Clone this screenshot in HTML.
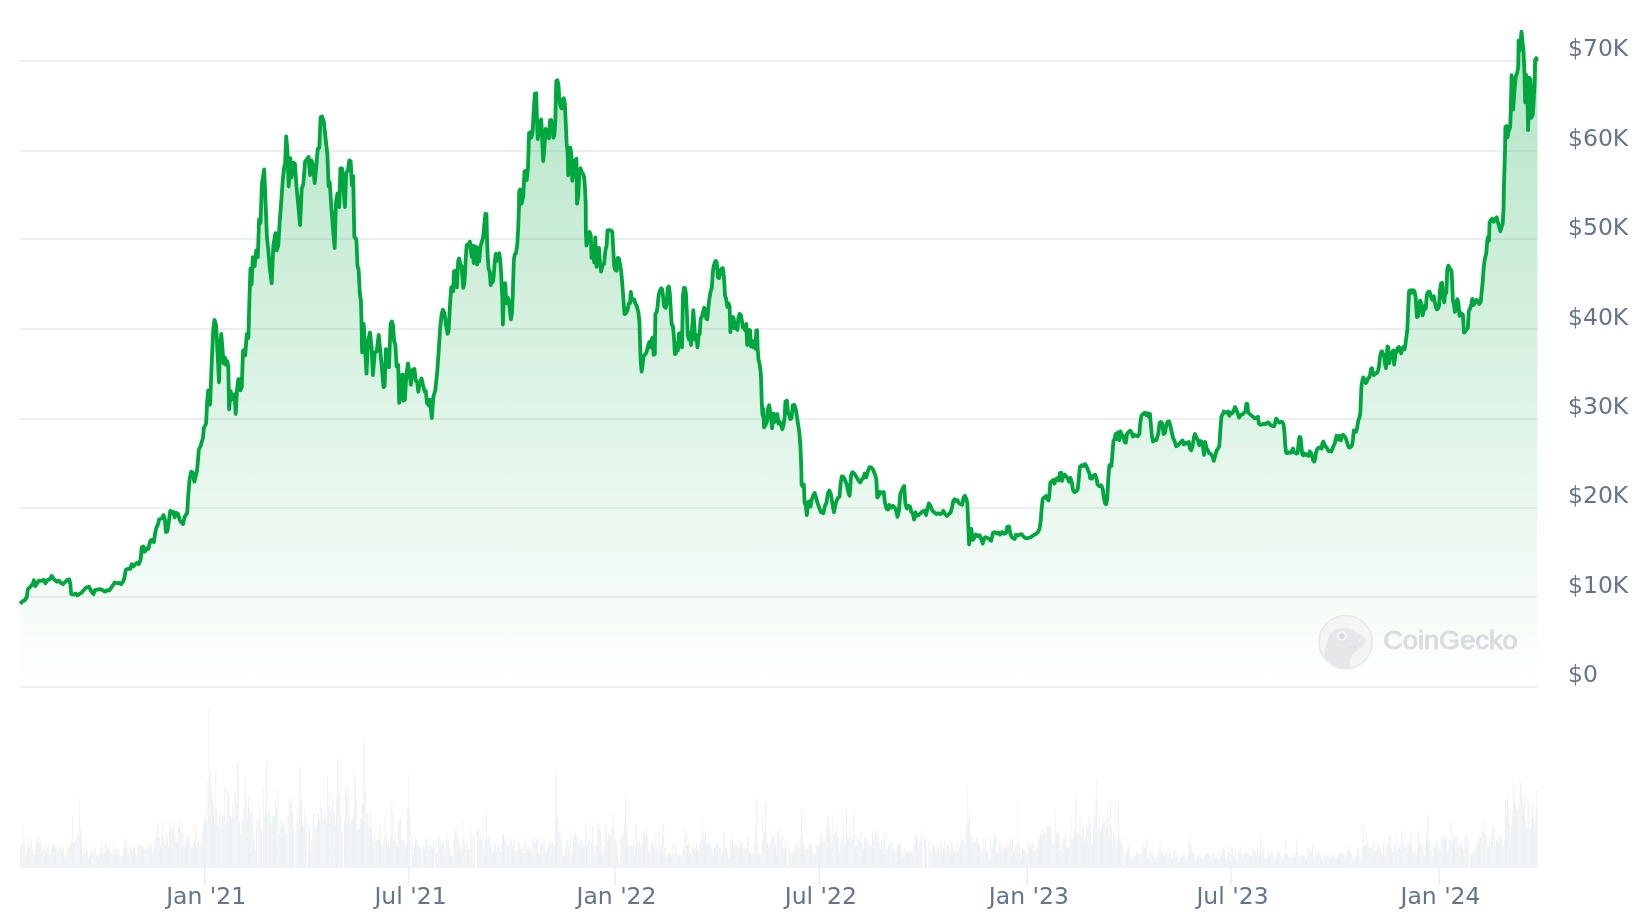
<!DOCTYPE html><html><head><meta charset="utf-8"><title>Bitcoin price chart</title>
<style>html,body{margin:0;padding:0;background:#fff}body{width:1644px;height:922px;overflow:hidden}svg{display:block;will-change:transform}text{font-family:"DejaVu Sans","Liberation Sans",sans-serif}text.wm{font-family:"Liberation Sans",sans-serif}</style></head><body>
<svg width="1644" height="922" viewBox="0 0 1644 922">
<defs><linearGradient id="g" gradientUnits="userSpaceOnUse" x1="0" y1="30" x2="0" y2="687"><stop offset="0" stop-color="#00a63e" stop-opacity="0.30"/><stop offset="1" stop-color="#00a63e" stop-opacity="0"/></linearGradient></defs>
<rect width="1644" height="922" fill="#fff"/>
<line x1="20.2" x2="1537.5" y1="687" y2="687" stroke="#edefef" stroke-width="2"/>
<line x1="20.2" x2="1537.5" y1="597" y2="597" stroke="#edefef" stroke-width="2"/>
<line x1="20.2" x2="1537.5" y1="508" y2="508" stroke="#edefef" stroke-width="2"/>
<line x1="20.2" x2="1537.5" y1="419" y2="419" stroke="#edefef" stroke-width="2"/>
<line x1="20.2" x2="1537.5" y1="329" y2="329" stroke="#edefef" stroke-width="2"/>
<line x1="20.2" x2="1537.5" y1="239" y2="239" stroke="#edefef" stroke-width="2"/>
<line x1="20.2" x2="1537.5" y1="151" y2="151" stroke="#edefef" stroke-width="2"/>
<line x1="20.2" x2="1537.5" y1="61" y2="61" stroke="#edefef" stroke-width="2"/>
<path d="M20.21 866.7v-19.9h0.83v19.9zM21.34 866.7v-22.7h0.83v22.7zM22.47 866.7v-43.19h0.83v43.19zM23.6 866.7v-26.72h0.83v26.72zM24.73 866.7v-20.49h0.83v20.49zM25.86 866.7v-13.08h0.83v13.08zM26.98 866.7v-19.66h0.83v19.66zM28.11 866.7v-23.14h0.83v23.14zM29.24 866.7v-19.28h0.83v19.28zM30.37 866.7v-28.74h0.83v28.74zM31.5 866.7v-23.21h0.83v23.21zM32.63 866.7v-17.64h0.83v17.64zM33.75 866.7v-11.88h0.83v11.88zM34.88 866.7v-20.98h0.83v20.98zM36.01 866.7v-23.76h0.83v23.76zM37.14 866.7v-29.57h0.83v29.57zM38.27 866.7v-28.14h0.83v28.14zM39.39 866.7v-24.35h0.83v24.35zM40.52 866.7v-25.06h0.83v25.06zM41.65 866.7v-17.35h0.83v17.35zM42.78 866.7v-18.18h0.83v18.18zM43.91 866.7v-16.67h0.83v16.67zM45.04 866.7v-13.62h0.83v13.62zM46.16 866.7v-17.4h0.83v17.4zM47.29 866.7v-20.41h0.83v20.41zM48.42 866.7v-22.71h0.83v22.71zM49.55 866.7v-12.52h0.83v12.52zM50.68 866.7v-17.55h0.83v17.55zM51.81 866.7v-22.63h0.83v22.63zM52.93 866.7v-20.56h0.83v20.56zM54.06 866.7v-23.2h0.83v23.2zM55.19 866.7v-19.52h0.83v19.52zM56.32 866.7v-17.7h0.83v17.7zM57.45 866.7v-14.77h0.83v14.77zM58.57 866.7v-18.27h0.83v18.27zM59.7 866.7v-22.22h0.83v22.22zM60.83 866.7v-19.75h0.83v19.75zM61.96 866.7v-16.05h0.83v16.05zM63.09 866.7v-19.62h0.83v19.62zM64.22 866.7v-10.8h0.83v10.8zM65.34 866.7v-9.63h0.83v9.63zM66.47 866.7v-13.67h0.83v13.67zM67.6 866.7v-18.66h0.83v18.66zM68.73 866.7v-19.71h0.83v19.71zM69.86 866.7v-24.87h0.83v24.87zM70.99 866.7v-25.05h0.83v25.05zM72.11 866.7v-50h0.83v50zM73.24 866.7v-24.43h0.83v24.43zM74.37 866.7v-23.94h0.83v23.94zM75.5 866.7v-27.51h0.83v27.51zM76.63 866.7v-30.02h0.83v30.02zM77.76 866.7v-31.58h0.83v31.58zM78.88 866.7v-68h0.83v68zM80.01 866.7v-38.71h0.83v38.71zM81.14 866.7v-27.92h0.83v27.92zM82.27 866.7v-11.47h0.83v11.47zM83.4 866.7v-20.29h0.83v20.29zM84.52 866.7v-14.56h0.83v14.56zM85.65 866.7v-23.4h0.83v23.4zM86.78 866.7v-18.02h0.83v18.02zM87.91 866.7v-9.44h0.83v9.44zM89.04 866.7v-10.61h0.83v10.61zM90.17 866.7v-14.96h0.83v14.96zM91.29 866.7v-21.56h0.83v21.56zM92.42 866.7v-15.15h0.83v15.15zM93.55 866.7v-17.59h0.83v17.59zM94.68 866.7v-19.71h0.83v19.71zM95.81 866.7v-11.3h0.83v11.3zM96.94 866.7v-11.95h0.83v11.95zM98.06 866.7v-9.25h0.83v9.25zM99.19 866.7v-15.28h0.83v15.28zM100.32 866.7v-18.79h0.83v18.79zM101.45 866.7v-25.13h0.83v25.13zM102.58 866.7v-13.34h0.83v13.34zM103.71 866.7v-22.51h0.83v22.51zM104.83 866.7v-15.48h0.83v15.48zM105.96 866.7v-23.95h0.83v23.95zM107.09 866.7v-18.54h0.83v18.54zM108.22 866.7v-16.6h0.83v16.6zM109.35 866.7v-16.53h0.83v16.53zM110.47 866.7v-13.72h0.83v13.72zM111.6 866.7v-14.17h0.83v14.17zM112.73 866.7v-13.97h0.83v13.97zM113.86 866.7v-22.93h0.83v22.93zM114.99 866.7v-12.61h0.83v12.61zM116.12 866.7v-16.42h0.83v16.42zM117.24 866.7v-18.35h0.83v18.35zM118.37 866.7v-17.34h0.83v17.34zM119.5 866.7v-11.51h0.83v11.51zM120.63 866.7v-10.16h0.83v10.16zM121.76 866.7v-11.38h0.83v11.38zM122.89 866.7v-16.37h0.83v16.37zM124.01 866.7v-24.41h0.83v24.41zM125.14 866.7v-19.98h0.83v19.98zM126.27 866.7v-29.35h0.83v29.35zM127.4 866.7v-17.59h0.83v17.59zM128.53 866.7v-13.12h0.83v13.12zM129.65 866.7v-18.37h0.83v18.37zM130.78 866.7v-20.25h0.83v20.25zM131.91 866.7v-15.06h0.83v15.06zM133.04 866.7v-21.19h0.83v21.19zM134.17 866.7v-19.64h0.83v19.64zM135.3 866.7v-12.96h0.83v12.96zM136.42 866.7v-12.34h0.83v12.34zM137.55 866.7v-21.44h0.83v21.44zM138.68 866.7v-24.43h0.83v24.43zM139.81 866.7v-21.02h0.83v21.02zM140.94 866.7v-20.78h0.83v20.78zM142.07 866.7v-20.67h0.83v20.67zM143.19 866.7v-17.89h0.83v17.89zM144.32 866.7v-18.52h0.83v18.52zM145.45 866.7v-16.84h0.83v16.84zM146.58 866.7v-20.24h0.83v20.24zM147.71 866.7v-18.86h0.83v18.86zM148.84 866.7v-26.08h0.83v26.08zM149.96 866.7v-21.16h0.83v21.16zM151.09 866.7v-20.39h0.83v20.39zM152.22 866.7v-12.53h0.83v12.53zM153.35 866.7v-21.01h0.83v21.01zM154.48 866.7v-30.22h0.83v30.22zM155.6 866.7v-29.2h0.83v29.2zM156.73 866.7v-38h0.83v38zM157.86 866.7v-46.58h0.83v46.58zM158.99 866.7v-28.6h0.83v28.6zM160.12 866.7v-21.28h0.83v21.28zM161.25 866.7v-31.75h0.83v31.75zM162.37 866.7v-45h0.83v45zM163.5 866.7v-26.3h0.83v26.3zM164.63 866.7v-22.16h0.83v22.16zM165.76 866.7v-35.31h0.83v35.31zM166.89 866.7v-29.42h0.83v29.42zM168.02 866.7v-21.29h0.83v21.29zM169.14 866.7v-37.02h0.83v37.02zM170.27 866.7v-46.14h0.83v46.14zM171.4 866.7v-35.64h0.83v35.64zM172.53 866.7v-41.23h0.83v41.23zM173.66 866.7v-46.36h0.83v46.36zM174.78 866.7v-29.64h0.83v29.64zM175.91 866.7v-25.49h0.83v25.49zM177.04 866.7v-29.12h0.83v29.12zM178.17 866.7v-39.14h0.83v39.14zM179.3 866.7v-46.07h0.83v46.07zM180.43 866.7v-33.89h0.83v33.89zM181.55 866.7v-42.62h0.83v42.62zM182.68 866.7v-34.69h0.83v34.69zM183.81 866.7v-19.73h0.83v19.73zM184.94 866.7v-24.47h0.83v24.47zM186.07 866.7v-28.92h0.83v28.92zM187.2 866.7v-31.09h0.83v31.09zM188.32 866.7v-27.86h0.83v27.86zM189.45 866.7v-33.21h0.83v33.21zM190.58 866.7v-20.45h0.83v20.45zM191.71 866.7v-19.15h0.83v19.15zM192.84 866.7v-25.76h0.83v25.76zM193.97 866.7v-25.64h0.83v25.64zM195.09 866.7v-40.35h0.83v40.35zM196.22 866.7v-20.23h0.83v20.23zM197.35 866.7v-24.54h0.83v24.54zM198.48 866.7v-25.86h0.83v25.86zM199.61 866.7v-21.16h0.83v21.16zM200.73 866.7v-23.68h0.83v23.68zM201.86 866.7v-37.04h0.83v37.04zM202.99 866.7v-41.82h0.83v41.82zM204.12 866.7v-46.15h0.83v46.15zM205.25 866.7v-52.47h0.83v52.47zM206.38 866.7v-43.93h0.83v43.93zM207.5 866.7v-87.34h0.83v87.34zM208.63 866.7v-160h0.83v160zM209.76 866.7v-93.27h0.83v93.27zM210.89 866.7v-82.95h0.83v82.95zM212.02 866.7v-68.73h0.83v68.73zM213.15 866.7v-60.71h0.83v60.71zM214.27 866.7v-44.31h0.83v44.31zM215.4 866.7v-98h0.83v98zM216.53 866.7v-58.14h0.83v58.14zM217.66 866.7v-39.91h0.83v39.91zM218.79 866.7v-49.99h0.83v49.99zM219.92 866.7v-53.49h0.83v53.49zM222.17 866.7v-50.49h0.83v50.49zM223.3 866.7v-52.87h0.83v52.87zM224.43 866.7v-80.79h0.83v80.79zM225.56 866.7v-42.63h0.83v42.63zM226.68 866.7v-78.97h0.83v78.97zM227.81 866.7v-75.27h0.83v75.27zM228.94 866.7v-68.78h0.83v68.78zM230.07 866.7v-50.42h0.83v50.42zM231.2 866.7v-47.81h0.83v47.81zM232.33 866.7v-61.6h0.83v61.6zM233.45 866.7v-50.97h0.83v50.97zM234.58 866.7v-74.59h0.83v74.59zM235.71 866.7v-73.79h0.83v73.79zM236.84 866.7v-104.43h0.83v104.43zM237.97 866.7v-88h0.83v88zM239.1 866.7v-44.77h0.83v44.77zM240.22 866.7v-33.03h0.83v33.03zM241.35 866.7v-40.59h0.83v40.59zM242.48 866.7v-51.18h0.83v51.18zM243.61 866.7v-58.46h0.83v58.46zM244.74 866.7v-90.3h0.83v90.3zM245.86 866.7v-69.86h0.83v69.86zM246.99 866.7v-48.84h0.83v48.84zM248.12 866.7v-70h0.83v70zM249.25 866.7v-57.17h0.83v57.17zM250.38 866.7v-54.28h0.83v54.28zM251.51 866.7v-58.41h0.83v58.41zM252.63 866.7v-42.73h0.83v42.73zM253.76 866.7v-28.7h0.83v28.7zM254.89 866.7v-16.33h0.83v16.33zM256.02 866.7v-46.65h0.83v46.65zM258.28 866.7v-48.7h0.83v48.7zM259.4 866.7v-61.61h0.83v61.61zM260.53 866.7v-40.13h0.83v40.13zM261.66 866.7v-35.93h0.83v35.93zM262.79 866.7v-80h0.83v80zM263.92 866.7v-50.18h0.83v50.18zM265.05 866.7v-56.19h0.83v56.19zM266.17 866.7v-105h0.83v105zM267.3 866.7v-53.08h0.83v53.08zM268.43 866.7v-67.51h0.83v67.51zM269.56 866.7v-54.5h0.83v54.5zM270.69 866.7v-44.24h0.83v44.24zM271.81 866.7v-50.76h0.83v50.76zM272.94 866.7v-49.19h0.83v49.19zM274.07 866.7v-51.32h0.83v51.32zM275.2 866.7v-65.38h0.83v65.38zM276.33 866.7v-60.39h0.83v60.39zM277.46 866.7v-77.96h0.83v77.96zM278.58 866.7v-33.25h0.83v33.25zM279.71 866.7v-46.8h0.83v46.8zM280.84 866.7v-39h0.83v39zM281.97 866.7v-46.77h0.83v46.77zM283.1 866.7v-42.23h0.83v42.23zM284.23 866.7v-40.05h0.83v40.05zM285.35 866.7v-36.34h0.83v36.34zM286.48 866.7v-33.34h0.83v33.34zM287.61 866.7v-50.39h0.83v50.39zM288.74 866.7v-68.96h0.83v68.96zM289.87 866.7v-65.04h0.83v65.04zM291 866.7v-69.17h0.83v69.17zM292.12 866.7v-55.82h0.83v55.82zM293.25 866.7v-39.28h0.83v39.28zM295.51 866.7v-35.83h0.83v35.83zM296.64 866.7v-57.2h0.83v57.2zM297.76 866.7v-42.79h0.83v42.79zM298.89 866.7v-99.97h0.83v99.97zM300.02 866.7v-64.96h0.83v64.96zM301.15 866.7v-68.87h0.83v68.87zM302.28 866.7v-44.51h0.83v44.51zM303.41 866.7v-40.4h0.83v40.4zM304.53 866.7v-59.01h0.83v59.01zM305.66 866.7v-49.67h0.83v49.67zM307.92 866.7v-41.93h0.83v41.93zM309.05 866.7v-38.68h0.83v38.68zM310.18 866.7v-17.27h0.83v17.27zM311.3 866.7v-26.6h0.83v26.6zM312.43 866.7v-44.81h0.83v44.81zM313.56 866.7v-53.67h0.83v53.67zM314.69 866.7v-38.31h0.83v38.31zM315.82 866.7v-40.52h0.83v40.52zM316.94 866.7v-44.29h0.83v44.29zM318.07 866.7v-54.25h0.83v54.25zM319.2 866.7v-46.64h0.83v46.64zM320.33 866.7v-65.08h0.83v65.08zM321.46 866.7v-59h0.83v59zM322.59 866.7v-49.21h0.83v49.21zM323.71 866.7v-54.38h0.83v54.38zM324.84 866.7v-53.3h0.83v53.3zM325.97 866.7v-42.23h0.83v42.23zM327.1 866.7v-90h0.83v90zM328.23 866.7v-60.45h0.83v60.45zM329.36 866.7v-72.81h0.83v72.81zM330.48 866.7v-54.86h0.83v54.86zM331.61 866.7v-59.25h0.83v59.25zM332.74 866.7v-75h0.83v75zM333.87 866.7v-54h0.83v54zM335 866.7v-41.76h0.83v41.76zM336.13 866.7v-68.52h0.83v68.52zM337.25 866.7v-110.47h0.83v110.47zM338.38 866.7v-73.17h0.83v73.17zM339.51 866.7v-71.96h0.83v71.96zM340.64 866.7v-49.67h0.83v49.67zM341.77 866.7v-34.99h0.83v34.99zM344.02 866.7v-45.48h0.83v45.48zM345.15 866.7v-80h0.83v80zM346.28 866.7v-71.89h0.83v71.89zM347.41 866.7v-81.25h0.83v81.25zM348.54 866.7v-67.56h0.83v67.56zM349.66 866.7v-42.78h0.83v42.78zM350.79 866.7v-44.4h0.83v44.4zM351.92 866.7v-49.1h0.83v49.1zM353.05 866.7v-51.46h0.83v51.46zM354.18 866.7v-95h0.83v95zM355.31 866.7v-87.63h0.83v87.63zM356.43 866.7v-67.76h0.83v67.76zM357.56 866.7v-37.76h0.83v37.76zM358.69 866.7v-38.01h0.83v38.01zM359.82 866.7v-48.82h0.83v48.82zM360.95 866.7v-48.85h0.83v48.85zM362.07 866.7v-62.81h0.83v62.81zM363.2 866.7v-128h0.83v128zM364.33 866.7v-72.67h0.83v72.67zM365.46 866.7v-80h0.83v80zM366.59 866.7v-52.6h0.83v52.6zM367.72 866.7v-48.05h0.83v48.05zM368.84 866.7v-39.91h0.83v39.91zM369.97 866.7v-56.11h0.83v56.11zM371.1 866.7v-37.6h0.83v37.6zM372.23 866.7v-30.04h0.83v30.04zM373.36 866.7v-25.24h0.83v25.24zM374.49 866.7v-40.14h0.83v40.14zM375.61 866.7v-26.21h0.83v26.21zM376.74 866.7v-26.78h0.83v26.78zM377.87 866.7v-26.95h0.83v26.95zM379 866.7v-41.45h0.83v41.45zM380.13 866.7v-25.61h0.83v25.61zM381.26 866.7v-21.57h0.83v21.57zM382.38 866.7v-22.7h0.83v22.7zM383.51 866.7v-28.55h0.83v28.55zM384.64 866.7v-54.8h0.83v54.8zM385.77 866.7v-32.39h0.83v32.39zM386.9 866.7v-23.29h0.83v23.29zM388.02 866.7v-25.22h0.83v25.22zM389.15 866.7v-19.48h0.83v19.48zM390.28 866.7v-32.63h0.83v32.63zM391.41 866.7v-65.14h0.83v65.14zM392.54 866.7v-54.55h0.83v54.55zM393.67 866.7v-27.45h0.83v27.45zM394.79 866.7v-34.38h0.83v34.38zM395.92 866.7v-24.93h0.83v24.93zM397.05 866.7v-20.58h0.83v20.58zM398.18 866.7v-44.49h0.83v44.49zM399.31 866.7v-48.28h0.83v48.28zM400.44 866.7v-50h0.83v50zM401.56 866.7v-26.72h0.83v26.72zM402.69 866.7v-26.9h0.83v26.9zM403.82 866.7v-25.52h0.83v25.52zM404.95 866.7v-18.39h0.83v18.39zM406.08 866.7v-23.49h0.83v23.49zM407.21 866.7v-57.06h0.83v57.06zM408.33 866.7v-91.37h0.83v91.37zM409.46 866.7v-55.93h0.83v55.93zM411.72 866.7v-30.22h0.83v30.22zM412.85 866.7v-13.67h0.83v13.67zM413.97 866.7v-22.25h0.83v22.25zM415.1 866.7v-27.88h0.83v27.88zM416.23 866.7v-27.48h0.83v27.48zM417.36 866.7v-21.09h0.83v21.09zM418.49 866.7v-19.94h0.83v19.94zM419.62 866.7v-20.64h0.83v20.64zM420.74 866.7v-14.65h0.83v14.65zM423 866.7v-20.57h0.83v20.57zM424.13 866.7v-18.89h0.83v18.89zM425.26 866.7v-27.51h0.83v27.51zM426.39 866.7v-27.92h0.83v27.92zM427.51 866.7v-20.97h0.83v20.97zM428.64 866.7v-15.97h0.83v15.97zM429.77 866.7v-20.14h0.83v20.14zM430.9 866.7v-20.63h0.83v20.63zM432.03 866.7v-19.38h0.83v19.38zM433.15 866.7v-21.46h0.83v21.46zM435.41 866.7v-24.72h0.83v24.72zM436.54 866.7v-13.06h0.83v13.06zM437.67 866.7v-31.62h0.83v31.62zM438.8 866.7v-28.28h0.83v28.28zM439.92 866.7v-25.98h0.83v25.98zM441.05 866.7v-21.98h0.83v21.98zM442.18 866.7v-22.87h0.83v22.87zM443.31 866.7v-26.41h0.83v26.41zM444.44 866.7v-17.93h0.83v17.93zM445.57 866.7v-25.98h0.83v25.98zM446.69 866.7v-33.21h0.83v33.21zM447.82 866.7v-26.04h0.83v26.04zM448.95 866.7v-19.25h0.83v19.25zM450.08 866.7v-13.27h0.83v13.27zM451.21 866.7v-10.65h0.83v10.65zM452.34 866.7v-12.54h0.83v12.54zM453.46 866.7v-27.58h0.83v27.58zM454.59 866.7v-37.27h0.83v37.27zM455.72 866.7v-39.24h0.83v39.24zM456.85 866.7v-30.68h0.83v30.68zM457.98 866.7v-28.24h0.83v28.24zM459.1 866.7v-20.44h0.83v20.44zM460.23 866.7v-16.79h0.83v16.79zM461.36 866.7v-20.56h0.83v20.56zM462.49 866.7v-47.6h0.83v47.6zM463.62 866.7v-28.87h0.83v28.87zM464.75 866.7v-24.5h0.83v24.5zM465.87 866.7v-22.17h0.83v22.17zM467 866.7v-25.68h0.83v25.68zM468.13 866.7v-17.86h0.83v17.86zM469.26 866.7v-17.74h0.83v17.74zM470.39 866.7v-38.56h0.83v38.56zM471.52 866.7v-26.7h0.83v26.7zM472.64 866.7v-29.73h0.83v29.73zM473.77 866.7v-30.63h0.83v30.63zM477.16 866.7v-36.84h0.83v36.84zM478.28 866.7v-36.84h0.83v36.84zM479.41 866.7v-27.82h0.83v27.82zM480.54 866.7v-31.86h0.83v31.86zM481.67 866.7v-27.54h0.83v27.54zM482.8 866.7v-20.73h0.83v20.73zM483.93 866.7v-15.03h0.83v15.03zM485.05 866.7v-26.12h0.83v26.12zM486.18 866.7v-55h0.83v55zM487.31 866.7v-27.76h0.83v27.76zM488.44 866.7v-29.8h0.83v29.8zM489.57 866.7v-31.65h0.83v31.65zM490.7 866.7v-21.43h0.83v21.43zM491.82 866.7v-14.56h0.83v14.56zM492.95 866.7v-17.27h0.83v17.27zM494.08 866.7v-23.32h0.83v23.32zM495.21 866.7v-21.75h0.83v21.75zM496.34 866.7v-15.56h0.83v15.56zM497.47 866.7v-21.96h0.83v21.96zM498.59 866.7v-20.82h0.83v20.82zM499.72 866.7v-14.6h0.83v14.6zM500.85 866.7v-22.35h0.83v22.35zM501.98 866.7v-31.77h0.83v31.77zM503.11 866.7v-32.28h0.83v32.28zM504.23 866.7v-28.97h0.83v28.97zM505.36 866.7v-24.59h0.83v24.59zM506.49 866.7v-21.93h0.83v21.93zM507.62 866.7v-20.5h0.83v20.5zM508.75 866.7v-25.56h0.83v25.56zM509.88 866.7v-26.13h0.83v26.13zM511 866.7v-27.15h0.83v27.15zM512.13 866.7v-21.07h0.83v21.07zM513.26 866.7v-26.41h0.83v26.41zM514.39 866.7v-28.18h0.83v28.18zM515.52 866.7v-14.96h0.83v14.96zM516.65 866.7v-17.31h0.83v17.31zM517.77 866.7v-24.93h0.83v24.93zM518.9 866.7v-24.12h0.83v24.12zM520.03 866.7v-19.02h0.83v19.02zM521.16 866.7v-17.08h0.83v17.08zM522.29 866.7v-20.22h0.83v20.22zM523.42 866.7v-13.29h0.83v13.29zM524.54 866.7v-22.63h0.83v22.63zM525.67 866.7v-30.35h0.83v30.35zM526.8 866.7v-17.68h0.83v17.68zM527.93 866.7v-20.36h0.83v20.36zM529.06 866.7v-18.11h0.83v18.11zM530.18 866.7v-20.25h0.83v20.25zM531.31 866.7v-15.33h0.83v15.33zM532.44 866.7v-25.52h0.83v25.52zM533.57 866.7v-28.88h0.83v28.88zM534.7 866.7v-23.23h0.83v23.23zM535.83 866.7v-27.79h0.83v27.79zM536.95 866.7v-26.83h0.83v26.83zM538.08 866.7v-13.36h0.83v13.36zM539.21 866.7v-13.15h0.83v13.15zM540.34 866.7v-21.51h0.83v21.51zM541.47 866.7v-23.35h0.83v23.35zM542.6 866.7v-23.66h0.83v23.66zM543.72 866.7v-27.76h0.83v27.76zM544.85 866.7v-22.2h0.83v22.2zM545.98 866.7v-15.42h0.83v15.42zM547.11 866.7v-19.15h0.83v19.15zM548.24 866.7v-23.9h0.83v23.9zM549.36 866.7v-28.84h0.83v28.84zM550.49 866.7v-22.57h0.83v22.57zM551.62 866.7v-25.3h0.83v25.3zM552.75 866.7v-27.36h0.83v27.36zM553.88 866.7v-20.99h0.83v20.99zM555.01 866.7v-48.73h0.83v48.73zM556.13 866.7v-95h0.83v95zM557.26 866.7v-49.72h0.83v49.72zM558.39 866.7v-35.22h0.83v35.22zM559.52 866.7v-38.37h0.83v38.37zM560.65 866.7v-26.66h0.83v26.66zM561.78 866.7v-17.61h0.83v17.61zM562.9 866.7v-10.12h0.83v10.12zM564.03 866.7v-11.91h0.83v11.91zM565.16 866.7v-18.14h0.83v18.14zM566.29 866.7v-22.05h0.83v22.05zM567.42 866.7v-27.22h0.83v27.22zM568.55 866.7v-21.31h0.83v21.31zM569.67 866.7v-35.41h0.83v35.41zM570.8 866.7v-11.87h0.83v11.87zM571.93 866.7v-16.21h0.83v16.21zM573.06 866.7v-29.97h0.83v29.97zM574.19 866.7v-32.94h0.83v32.94zM575.31 866.7v-35.91h0.83v35.91zM576.44 866.7v-29.35h0.83v29.35zM577.57 866.7v-32.02h0.83v32.02zM578.7 866.7v-22.22h0.83v22.22zM579.83 866.7v-20.01h0.83v20.01zM580.96 866.7v-26.87h0.83v26.87zM582.08 866.7v-18.68h0.83v18.68zM583.21 866.7v-19.44h0.83v19.44zM584.34 866.7v-20.69h0.83v20.69zM585.47 866.7v-45h0.83v45zM586.6 866.7v-21.66h0.83v21.66zM587.73 866.7v-26.04h0.83v26.04zM588.85 866.7v-27.66h0.83v27.66zM591.11 866.7v-25.75h0.83v25.75zM592.24 866.7v-41.06h0.83v41.06zM593.37 866.7v-22.25h0.83v22.25zM594.5 866.7v-14.05h0.83v14.05zM595.62 866.7v-21.54h0.83v21.54zM596.75 866.7v-36.35h0.83v36.35zM597.88 866.7v-45.47h0.83v45.47zM599.01 866.7v-39.29h0.83v39.29zM600.14 866.7v-35.47h0.83v35.47zM601.26 866.7v-19.71h0.83v19.71zM602.39 866.7v-12.07h0.83v12.07zM603.52 866.7v-20.92h0.83v20.92zM604.65 866.7v-35h0.83v35zM605.78 866.7v-40.6h0.83v40.6zM606.91 866.7v-27.43h0.83v27.43zM608.03 866.7v-32.87h0.83v32.87zM609.16 866.7v-31.31h0.83v31.31zM610.29 866.7v-31.92h0.83v31.92zM611.42 866.7v-40.37h0.83v40.37zM612.55 866.7v-55.39h0.83v55.39zM613.68 866.7v-39.1h0.83v39.1zM614.8 866.7v-28.53h0.83v28.53zM615.93 866.7v-25.47h0.83v25.47zM617.06 866.7v-14.29h0.83v14.29zM618.19 866.7v-8.28h0.83v8.28zM620.44 866.7v-31.81h0.83v31.81zM621.57 866.7v-30.54h0.83v30.54zM622.7 866.7v-35.83h0.83v35.83zM623.83 866.7v-45.46h0.83v45.46zM624.96 866.7v-72h0.83v72zM626.09 866.7v-43.06h0.83v43.06zM627.21 866.7v-29.04h0.83v29.04zM628.34 866.7v-22.18h0.83v22.18zM629.47 866.7v-20.76h0.83v20.76zM630.6 866.7v-21.87h0.83v21.87zM631.73 866.7v-20.98h0.83v20.98zM632.86 866.7v-24.64h0.83v24.64zM633.98 866.7v-12.07h0.83v12.07zM635.11 866.7v-22.29h0.83v22.29zM636.24 866.7v-42.39h0.83v42.39zM637.37 866.7v-24.08h0.83v24.08zM638.5 866.7v-26.7h0.83v26.7zM639.63 866.7v-25.91h0.83v25.91zM640.75 866.7v-20.16h0.83v20.16zM641.88 866.7v-23.69h0.83v23.69zM643.01 866.7v-32.86h0.83v32.86zM644.14 866.7v-37.72h0.83v37.72zM645.27 866.7v-32.43h0.83v32.43zM646.39 866.7v-38.32h0.83v38.32zM647.52 866.7v-31.46h0.83v31.46zM648.65 866.7v-15.67h0.83v15.67zM649.78 866.7v-13.55h0.83v13.55zM650.91 866.7v-24.17h0.83v24.17zM652.04 866.7v-23.68h0.83v23.68zM653.16 866.7v-21.65h0.83v21.65zM654.29 866.7v-18.09h0.83v18.09zM655.42 866.7v-34.54h0.83v34.54zM656.55 866.7v-20.23h0.83v20.23zM657.68 866.7v-17.32h0.83v17.32zM658.81 866.7v-36.27h0.83v36.27zM659.93 866.7v-22.09h0.83v22.09zM661.06 866.7v-20.98h0.83v20.98zM662.19 866.7v-30.2h0.83v30.2zM663.32 866.7v-42.61h0.83v42.61zM664.45 866.7v-20.02h0.83v20.02zM665.57 866.7v-9.55h0.83v9.55zM666.7 866.7v-12.39h0.83v12.39zM667.83 866.7v-14.82h0.83v14.82zM668.96 866.7v-15.34h0.83v15.34zM670.09 866.7v-12.66h0.83v12.66zM671.22 866.7v-10.59h0.83v10.59zM672.34 866.7v-22.11h0.83v22.11zM673.47 866.7v-13.07h0.83v13.07zM674.6 866.7v-24.83h0.83v24.83zM675.73 866.7v-19.88h0.83v19.88zM676.86 866.7v-14.08h0.83v14.08zM677.99 866.7v-10.36h0.83v10.36zM679.11 866.7v-13.17h0.83v13.17zM680.24 866.7v-11.27h0.83v11.27zM681.37 866.7v-10.31h0.83v10.31zM682.5 866.7v-16.73h0.83v16.73zM683.63 866.7v-20.46h0.83v20.46zM684.76 866.7v-37.3h0.83v37.3zM685.88 866.7v-30.15h0.83v30.15zM687.01 866.7v-21.62h0.83v21.62zM688.14 866.7v-24.96h0.83v24.96zM689.27 866.7v-13.47h0.83v13.47zM690.4 866.7v-12.98h0.83v12.98zM691.52 866.7v-18.83h0.83v18.83zM692.65 866.7v-17.7h0.83v17.7zM693.78 866.7v-18.39h0.83v18.39zM694.91 866.7v-18.51h0.83v18.51zM696.04 866.7v-23.72h0.83v23.72zM697.17 866.7v-16.98h0.83v16.98zM698.29 866.7v-18.62h0.83v18.62zM699.42 866.7v-23.34h0.83v23.34zM700.55 866.7v-28.07h0.83v28.07zM701.68 866.7v-51.73h0.83v51.73zM702.81 866.7v-33.06h0.83v33.06zM703.94 866.7v-30.07h0.83v30.07zM705.06 866.7v-35.74h0.83v35.74zM706.19 866.7v-21.82h0.83v21.82zM707.32 866.7v-24.27h0.83v24.27zM708.45 866.7v-25.78h0.83v25.78zM709.58 866.7v-21.76h0.83v21.76zM710.71 866.7v-20.71h0.83v20.71zM711.83 866.7v-14.8h0.83v14.8zM712.96 866.7v-11.78h0.83v11.78zM714.09 866.7v-18.61h0.83v18.61zM715.22 866.7v-22.53h0.83v22.53zM716.35 866.7v-23.5h0.83v23.5zM717.47 866.7v-23.98h0.83v23.98zM718.6 866.7v-18.94h0.83v18.94zM719.73 866.7v-19.74h0.83v19.74zM720.86 866.7v-12.41h0.83v12.41zM721.99 866.7v-15.28h0.83v15.28zM723.12 866.7v-34.96h0.83v34.96zM724.24 866.7v-19.22h0.83v19.22zM725.37 866.7v-19.8h0.83v19.8zM726.5 866.7v-19.34h0.83v19.34zM727.63 866.7v-13.36h0.83v13.36zM728.76 866.7v-8.85h0.83v8.85zM729.89 866.7v-26.17h0.83v26.17zM731.01 866.7v-19.54h0.83v19.54zM732.14 866.7v-29.96h0.83v29.96zM733.27 866.7v-21.87h0.83v21.87zM734.4 866.7v-22.29h0.83v22.29zM735.53 866.7v-24.74h0.83v24.74zM736.65 866.7v-20.61h0.83v20.61zM737.78 866.7v-18.54h0.83v18.54zM738.91 866.7v-21.96h0.83v21.96zM740.04 866.7v-23.22h0.83v23.22zM741.17 866.7v-20.27h0.83v20.27zM742.3 866.7v-24.97h0.83v24.97zM743.42 866.7v-17.34h0.83v17.34zM744.55 866.7v-18.44h0.83v18.44zM745.68 866.7v-18.13h0.83v18.13zM746.81 866.7v-31.64h0.83v31.64zM747.94 866.7v-25.16h0.83v25.16zM749.07 866.7v-13.72h0.83v13.72zM750.19 866.7v-15.68h0.83v15.68zM751.32 866.7v-12.26h0.83v12.26zM752.45 866.7v-13.18h0.83v13.18zM753.58 866.7v-24.53h0.83v24.53zM754.71 866.7v-39.27h0.83v39.27zM755.84 866.7v-69.18h0.83v69.18zM756.96 866.7v-22.72h0.83v22.72zM758.09 866.7v-13.84h0.83v13.84zM759.22 866.7v-11.97h0.83v11.97zM760.35 866.7v-12.64h0.83v12.64zM761.48 866.7v-24.59h0.83v24.59zM762.6 866.7v-50h0.83v50zM763.73 866.7v-33.27h0.83v33.27zM764.86 866.7v-65h0.83v65zM765.99 866.7v-35.21h0.83v35.21zM767.12 866.7v-23.54h0.83v23.54zM768.25 866.7v-18.69h0.83v18.69zM769.37 866.7v-23.81h0.83v23.81zM770.5 866.7v-35.89h0.83v35.89zM771.63 866.7v-27.73h0.83v27.73zM772.76 866.7v-29.59h0.83v29.59zM773.89 866.7v-32.35h0.83v32.35zM775.02 866.7v-23.13h0.83v23.13zM776.14 866.7v-14.21h0.83v14.21zM777.27 866.7v-34.83h0.83v34.83zM778.4 866.7v-38.65h0.83v38.65zM779.53 866.7v-26.61h0.83v26.61zM780.66 866.7v-28.76h0.83v28.76zM781.78 866.7v-29.49h0.83v29.49zM782.91 866.7v-18.35h0.83v18.35zM784.04 866.7v-18.84h0.83v18.84zM785.17 866.7v-22.14h0.83v22.14zM786.3 866.7v-18.66h0.83v18.66zM788.55 866.7v-23.18h0.83v23.18zM789.68 866.7v-14.21h0.83v14.21zM790.81 866.7v-15.28h0.83v15.28zM791.94 866.7v-11.53h0.83v11.53zM793.07 866.7v-15.57h0.83v15.57zM794.2 866.7v-18.05h0.83v18.05zM795.32 866.7v-25.52h0.83v25.52zM796.45 866.7v-20.82h0.83v20.82zM797.58 866.7v-23.46h0.83v23.46zM798.71 866.7v-18.87h0.83v18.87zM799.84 866.7v-30.24h0.83v30.24zM800.97 866.7v-58h0.83v58zM802.09 866.7v-36.67h0.83v36.67zM803.22 866.7v-23.68h0.83v23.68zM804.35 866.7v-21.73h0.83v21.73zM805.48 866.7v-17.83h0.83v17.83zM806.61 866.7v-17.3h0.83v17.3zM807.73 866.7v-20.35h0.83v20.35zM808.86 866.7v-22.76h0.83v22.76zM809.99 866.7v-22.08h0.83v22.08zM811.12 866.7v-22.6h0.83v22.6zM812.25 866.7v-15.49h0.83v15.49zM813.38 866.7v-12.65h0.83v12.65zM814.5 866.7v-11.88h0.83v11.88zM815.63 866.7v-21.24h0.83v21.24zM816.76 866.7v-22.77h0.83v22.77zM817.89 866.7v-20.21h0.83v20.21zM819.02 866.7v-22.84h0.83v22.84zM820.15 866.7v-33.27h0.83v33.27zM821.27 866.7v-27.5h0.83v27.5zM822.4 866.7v-32.43h0.83v32.43zM823.53 866.7v-23.08h0.83v23.08zM824.66 866.7v-30.5h0.83v30.5zM825.79 866.7v-37.63h0.83v37.63zM826.92 866.7v-43.98h0.83v43.98zM828.04 866.7v-50.09h0.83v50.09zM829.17 866.7v-40.78h0.83v40.78zM830.3 866.7v-32.18h0.83v32.18zM831.43 866.7v-23.82h0.83v23.82zM832.56 866.7v-52.49h0.83v52.49zM833.68 866.7v-32.48h0.83v32.48zM834.81 866.7v-35.43h0.83v35.43zM835.94 866.7v-39.73h0.83v39.73zM837.07 866.7v-30.14h0.83v30.14zM838.2 866.7v-27.4h0.83v27.4zM839.33 866.7v-15.92h0.83v15.92zM840.45 866.7v-26.3h0.83v26.3zM841.58 866.7v-27.43h0.83v27.43zM842.71 866.7v-45.17h0.83v45.17zM843.84 866.7v-23.5h0.83v23.5zM844.97 866.7v-26.08h0.83v26.08zM846.1 866.7v-56h0.83v56zM847.22 866.7v-30.23h0.83v30.23zM848.35 866.7v-28.22h0.83v28.22zM849.48 866.7v-37.41h0.83v37.41zM850.61 866.7v-28.62h0.83v28.62zM851.74 866.7v-28.37h0.83v28.37zM852.86 866.7v-56h0.83v56zM853.99 866.7v-31.26h0.83v31.26zM855.12 866.7v-20.89h0.83v20.89zM856.25 866.7v-21.1h0.83v21.1zM857.38 866.7v-30.01h0.83v30.01zM858.51 866.7v-27.92h0.83v27.92zM859.63 866.7v-24.04h0.83v24.04zM860.76 866.7v-35.21h0.83v35.21zM861.89 866.7v-22.98h0.83v22.98zM863.02 866.7v-17.85h0.83v17.85zM864.15 866.7v-29.56h0.83v29.56zM865.28 866.7v-27.77h0.83v27.77zM866.4 866.7v-30.19h0.83v30.19zM867.53 866.7v-26.95h0.83v26.95zM868.66 866.7v-21.56h0.83v21.56zM869.79 866.7v-23.74h0.83v23.74zM870.92 866.7v-20.75h0.83v20.75zM872.05 866.7v-35.05h0.83v35.05zM873.17 866.7v-29.02h0.83v29.02zM874.3 866.7v-32.79h0.83v32.79zM875.43 866.7v-36.38h0.83v36.38zM876.56 866.7v-38.31h0.83v38.31zM877.69 866.7v-34.11h0.83v34.11zM878.81 866.7v-25.67h0.83v25.67zM879.94 866.7v-16.8h0.83v16.8zM881.07 866.7v-25.79h0.83v25.79zM882.2 866.7v-20.56h0.83v20.56zM883.33 866.7v-27.46h0.83v27.46zM884.46 866.7v-35h0.83v35zM885.58 866.7v-18.52h0.83v18.52zM886.71 866.7v-16.94h0.83v16.94zM887.84 866.7v-21.53h0.83v21.53zM888.97 866.7v-24.08h0.83v24.08zM891.23 866.7v-25.78h0.83v25.78zM892.35 866.7v-17.93h0.83v17.93zM893.48 866.7v-18.98h0.83v18.98zM894.61 866.7v-15.09h0.83v15.09zM895.74 866.7v-19.32h0.83v19.32zM896.87 866.7v-21.46h0.83v21.46zM898 866.7v-21.79h0.83v21.79zM899.12 866.7v-24.47h0.83v24.47zM900.25 866.7v-23.18h0.83v23.18zM901.38 866.7v-12.68h0.83v12.68zM902.51 866.7v-9.2h0.83v9.2zM903.64 866.7v-16.43h0.83v16.43zM904.76 866.7v-19.2h0.83v19.2zM905.89 866.7v-14.51h0.83v14.51zM907.02 866.7v-15.35h0.83v15.35zM908.15 866.7v-17.66h0.83v17.66zM909.28 866.7v-15.53h0.83v15.53zM910.41 866.7v-14.34h0.83v14.34zM911.53 866.7v-14.98h0.83v14.98zM912.66 866.7v-19.95h0.83v19.95zM913.79 866.7v-25.26h0.83v25.26zM914.92 866.7v-29.94h0.83v29.94zM916.05 866.7v-30.99h0.83v30.99zM917.18 866.7v-28.97h0.83v28.97zM918.3 866.7v-20.72h0.83v20.72zM919.43 866.7v-25.79h0.83v25.79zM920.56 866.7v-30.6h0.83v30.6zM921.69 866.7v-36.71h0.83v36.71zM923.94 866.7v-27.97h0.83v27.97zM925.07 866.7v-27.83h0.83v27.83zM926.2 866.7v-21.04h0.83v21.04zM928.46 866.7v-25.59h0.83v25.59zM929.59 866.7v-17.37h0.83v17.37zM930.71 866.7v-13.87h0.83v13.87zM931.84 866.7v-24.93h0.83v24.93zM932.97 866.7v-20.85h0.83v20.85zM934.1 866.7v-19.91h0.83v19.91zM935.23 866.7v-15.15h0.83v15.15zM936.36 866.7v-19.29h0.83v19.29zM937.48 866.7v-23.56h0.83v23.56zM938.61 866.7v-17.83h0.83v17.83zM939.74 866.7v-26.77h0.83v26.77zM940.87 866.7v-23.41h0.83v23.41zM942 866.7v-12.01h0.83v12.01zM943.13 866.7v-18.79h0.83v18.79zM944.25 866.7v-26.79h0.83v26.79zM945.38 866.7v-14.89h0.83v14.89zM946.51 866.7v-22.03h0.83v22.03zM947.64 866.7v-22.45h0.83v22.45zM948.77 866.7v-18.2h0.83v18.2zM949.89 866.7v-13.2h0.83v13.2zM951.02 866.7v-24.3h0.83v24.3zM952.15 866.7v-21.85h0.83v21.85zM953.28 866.7v-15.95h0.83v15.95zM954.41 866.7v-15.76h0.83v15.76zM955.54 866.7v-17.36h0.83v17.36zM956.66 866.7v-25.22h0.83v25.22zM957.79 866.7v-15.51h0.83v15.51zM958.92 866.7v-20.17h0.83v20.17zM960.05 866.7v-22.44h0.83v22.44zM961.18 866.7v-28.94h0.83v28.94zM962.31 866.7v-24.84h0.83v24.84zM963.43 866.7v-28.16h0.83v28.16zM964.56 866.7v-22.1h0.83v22.1zM965.69 866.7v-42.8h0.83v42.8zM966.82 866.7v-81h0.83v81zM967.95 866.7v-48.07h0.83v48.07zM969.07 866.7v-55h0.83v55zM970.2 866.7v-32.06h0.83v32.06zM971.33 866.7v-30.37h0.83v30.37zM972.46 866.7v-24.34h0.83v24.34zM973.59 866.7v-23.33h0.83v23.33zM974.72 866.7v-24.82h0.83v24.82zM975.84 866.7v-30.05h0.83v30.05zM976.97 866.7v-28.07h0.83v28.07zM978.1 866.7v-23.99h0.83v23.99zM979.23 866.7v-21.83h0.83v21.83zM980.36 866.7v-19.95h0.83v19.95zM981.49 866.7v-14.97h0.83v14.97zM982.61 866.7v-29.27h0.83v29.27zM983.74 866.7v-19.65h0.83v19.65zM984.87 866.7v-27.78h0.83v27.78zM986 866.7v-15.72h0.83v15.72zM987.13 866.7v-14.58h0.83v14.58zM988.26 866.7v-13.8h0.83v13.8zM989.38 866.7v-8h0.83v8zM990.51 866.7v-28.08h0.83v28.08zM991.64 866.7v-17.88h0.83v17.88zM992.77 866.7v-26.35h0.83v26.35zM993.9 866.7v-30.99h0.83v30.99zM995.02 866.7v-28.7h0.83v28.7zM996.15 866.7v-15.27h0.83v15.27zM997.28 866.7v-12.98h0.83v12.98zM998.41 866.7v-20.77h0.83v20.77zM999.54 866.7v-26.85h0.83v26.85zM1000.67 866.7v-19.07h0.83v19.07zM1001.79 866.7v-17.78h0.83v17.78zM1002.92 866.7v-20.21h0.83v20.21zM1004.05 866.7v-18.71h0.83v18.71zM1005.18 866.7v-18.59h0.83v18.59zM1006.31 866.7v-22.29h0.83v22.29zM1007.44 866.7v-19.5h0.83v19.5zM1008.56 866.7v-21.11h0.83v21.11zM1009.69 866.7v-31.03h0.83v31.03zM1010.82 866.7v-18.95h0.83v18.95zM1011.95 866.7v-26.8h0.83v26.8zM1013.08 866.7v-15.23h0.83v15.23zM1014.21 866.7v-18.29h0.83v18.29zM1015.33 866.7v-20.31h0.83v20.31zM1016.46 866.7v-23.22h0.83v23.22zM1017.59 866.7v-65.05h0.83v65.05zM1018.72 866.7v-23.89h0.83v23.89zM1019.85 866.7v-14.31h0.83v14.31zM1020.97 866.7v-9.03h0.83v9.03zM1022.1 866.7v-17.87h0.83v17.87zM1023.23 866.7v-18.23h0.83v18.23zM1024.36 866.7v-16.29h0.83v16.29zM1025.49 866.7v-15.04h0.83v15.04zM1026.62 866.7v-12.62h0.83v12.62zM1027.74 866.7v-21.58h0.83v21.58zM1028.87 866.7v-24.1h0.83v24.1zM1030 866.7v-18h0.83v18zM1031.13 866.7v-20.72h0.83v20.72zM1032.26 866.7v-24.19h0.83v24.19zM1033.39 866.7v-14.92h0.83v14.92zM1034.51 866.7v-15.96h0.83v15.96zM1035.64 866.7v-18.1h0.83v18.1zM1036.77 866.7v-19.24h0.83v19.24zM1037.9 866.7v-25.34h0.83v25.34zM1039.03 866.7v-28.46h0.83v28.46zM1040.15 866.7v-33.04h0.83v33.04zM1041.28 866.7v-32.77h0.83v32.77zM1042.41 866.7v-35.52h0.83v35.52zM1043.54 866.7v-36.83h0.83v36.83zM1044.67 866.7v-32.77h0.83v32.77zM1045.8 866.7v-33.14h0.83v33.14zM1046.92 866.7v-40.91h0.83v40.91zM1048.05 866.7v-41.6h0.83v41.6zM1049.18 866.7v-39.62h0.83v39.62zM1050.31 866.7v-44.29h0.83v44.29zM1051.44 866.7v-30.76h0.83v30.76zM1052.57 866.7v-23.78h0.83v23.78zM1053.69 866.7v-22.26h0.83v22.26zM1054.82 866.7v-56.65h0.83v56.65zM1055.95 866.7v-34.49h0.83v34.49zM1057.08 866.7v-34.17h0.83v34.17zM1058.21 866.7v-36.51h0.83v36.51zM1059.34 866.7v-31.8h0.83v31.8zM1060.46 866.7v-17.44h0.83v17.44zM1061.59 866.7v-23.41h0.83v23.41zM1062.72 866.7v-30.95h0.83v30.95zM1063.85 866.7v-27.65h0.83v27.65zM1064.98 866.7v-33.19h0.83v33.19zM1066.1 866.7v-19.09h0.83v19.09zM1067.23 866.7v-20.7h0.83v20.7zM1068.36 866.7v-18.54h0.83v18.54zM1069.49 866.7v-30.26h0.83v30.26zM1070.62 866.7v-49.39h0.83v49.39zM1071.75 866.7v-27.08h0.83v27.08zM1072.87 866.7v-30.28h0.83v30.28zM1074 866.7v-37.61h0.83v37.61zM1075.13 866.7v-71.25h0.83v71.25zM1076.26 866.7v-33.65h0.83v33.65zM1077.39 866.7v-35.31h0.83v35.31zM1078.52 866.7v-32.26h0.83v32.26zM1079.64 866.7v-50.4h0.83v50.4zM1080.77 866.7v-30.5h0.83v30.5zM1081.9 866.7v-41.56h0.83v41.56zM1083.03 866.7v-41.5h0.83v41.5zM1084.16 866.7v-24.31h0.83v24.31zM1085.28 866.7v-31h0.83v31zM1086.41 866.7v-42.55h0.83v42.55zM1087.54 866.7v-41.58h0.83v41.58zM1088.67 866.7v-50.69h0.83v50.69zM1089.8 866.7v-43.48h0.83v43.48zM1090.93 866.7v-22.26h0.83v22.26zM1092.05 866.7v-23.39h0.83v23.39zM1093.18 866.7v-40.97h0.83v40.97zM1094.31 866.7v-50.83h0.83v50.83zM1095.44 866.7v-70.57h0.83v70.57zM1096.57 866.7v-87.59h0.83v87.59zM1097.7 866.7v-38.1h0.83v38.1zM1098.82 866.7v-52.51h0.83v52.51zM1099.95 866.7v-35h0.83v35zM1101.08 866.7v-39.8h0.83v39.8zM1102.21 866.7v-43.24h0.83v43.24zM1103.34 866.7v-46.41h0.83v46.41zM1104.47 866.7v-45.49h0.83v45.49zM1105.59 866.7v-38.98h0.83v38.98zM1106.72 866.7v-64.05h0.83v64.05zM1107.85 866.7v-50h0.83v50zM1108.98 866.7v-30.75h0.83v30.75zM1110.11 866.7v-64h0.83v64zM1111.23 866.7v-39.53h0.83v39.53zM1112.36 866.7v-28.24h0.83v28.24zM1113.49 866.7v-34.61h0.83v34.61zM1114.62 866.7v-31.62h0.83v31.62zM1115.75 866.7v-22.24h0.83v22.24zM1116.88 866.7v-26.64h0.83v26.64zM1118 866.7v-65.52h0.83v65.52zM1119.13 866.7v-29.67h0.83v29.67zM1120.26 866.7v-28.63h0.83v28.63zM1121.39 866.7v-24.07h0.83v24.07zM1122.52 866.7v-20.93h0.83v20.93zM1124.77 866.7v-13.5h0.83v13.5zM1125.9 866.7v-14.5h0.83v14.5zM1127.03 866.7v-19.44h0.83v19.44zM1128.16 866.7v-20.96h0.83v20.96zM1129.29 866.7v-13.12h0.83v13.12zM1130.42 866.7v-9.53h0.83v9.53zM1131.54 866.7v-11.36h0.83v11.36zM1132.67 866.7v-7.46h0.83v7.46zM1133.8 866.7v-11.1h0.83v11.1zM1134.93 866.7v-9.86h0.83v9.86zM1136.06 866.7v-14.76h0.83v14.76zM1137.18 866.7v-12.87h0.83v12.87zM1138.31 866.7v-14.4h0.83v14.4zM1139.44 866.7v-12.25h0.83v12.25zM1140.57 866.7v-12.27h0.83v12.27zM1141.7 866.7v-20.01h0.83v20.01zM1142.83 866.7v-25.12h0.83v25.12zM1143.95 866.7v-19.75h0.83v19.75zM1145.08 866.7v-19.49h0.83v19.49zM1146.21 866.7v-29.45h0.83v29.45zM1147.34 866.7v-9.04h0.83v9.04zM1148.47 866.7v-12.89h0.83v12.89zM1149.6 866.7v-17.28h0.83v17.28zM1150.72 866.7v-14.57h0.83v14.57zM1151.85 866.7v-14.84h0.83v14.84zM1152.98 866.7v-10.05h0.83v10.05zM1154.11 866.7v-10.07h0.83v10.07zM1155.24 866.7v-7.02h0.83v7.02zM1156.36 866.7v-10h0.83v10zM1157.49 866.7v-14.27h0.83v14.27zM1158.62 866.7v-18.48h0.83v18.48zM1159.75 866.7v-27h0.83v27zM1160.88 866.7v-17h0.83v17zM1162.01 866.7v-13.6h0.83v13.6zM1163.13 866.7v-11.87h0.83v11.87zM1164.26 866.7v-11.25h0.83v11.25zM1165.39 866.7v-14.99h0.83v14.99zM1166.52 866.7v-15.69h0.83v15.69zM1167.65 866.7v-12.46h0.83v12.46zM1168.78 866.7v-18.24h0.83v18.24zM1169.9 866.7v-12.43h0.83v12.43zM1171.03 866.7v-9.19h0.83v9.19zM1172.16 866.7v-9.58h0.83v9.58zM1173.29 866.7v-16.81h0.83v16.81zM1174.42 866.7v-16.19h0.83v16.19zM1175.55 866.7v-9.8h0.83v9.8zM1176.67 866.7v-12.36h0.83v12.36zM1177.8 866.7v-8.99h0.83v8.99zM1178.93 866.7v-5.62h0.83v5.62zM1180.06 866.7v-9.33h0.83v9.33zM1181.19 866.7v-8.75h0.83v8.75zM1182.31 866.7v-11.58h0.83v11.58zM1183.44 866.7v-13.25h0.83v13.25zM1184.57 866.7v-12.75h0.83v12.75zM1185.7 866.7v-8.51h0.83v8.51zM1186.83 866.7v-10.83h0.83v10.83zM1187.96 866.7v-12.71h0.83v12.71zM1189.08 866.7v-27.69h0.83v27.69zM1190.21 866.7v-20.71h0.83v20.71zM1191.34 866.7v-20.4h0.83v20.4zM1192.47 866.7v-13.88h0.83v13.88zM1193.6 866.7v-14.46h0.83v14.46zM1194.73 866.7v-7.41h0.83v7.41zM1195.85 866.7v-8.47h0.83v8.47zM1196.98 866.7v-11.24h0.83v11.24zM1198.11 866.7v-12.83h0.83v12.83zM1199.24 866.7v-11.55h0.83v11.55zM1200.37 866.7v-10.08h0.83v10.08zM1201.5 866.7v-8.97h0.83v8.97zM1202.62 866.7v-6.9h0.83v6.9zM1203.75 866.7v-13.62h0.83v13.62zM1204.88 866.7v-10.16h0.83v10.16zM1206.01 866.7v-13.39h0.83v13.39zM1207.14 866.7v-14.18h0.83v14.18zM1208.26 866.7v-13.05h0.83v13.05zM1209.39 866.7v-11.64h0.83v11.64zM1210.52 866.7v-6.84h0.83v6.84zM1211.65 866.7v-10.44h0.83v10.44zM1212.78 866.7v-11.86h0.83v11.86zM1213.91 866.7v-14.01h0.83v14.01zM1215.03 866.7v-8.3h0.83v8.3zM1216.16 866.7v-9.82h0.83v9.82zM1217.29 866.7v-14.79h0.83v14.79zM1218.42 866.7v-7.32h0.83v7.32zM1219.55 866.7v-13.37h0.83v13.37zM1220.68 866.7v-12.48h0.83v12.48zM1221.8 866.7v-18.42h0.83v18.42zM1222.93 866.7v-19.46h0.83v19.46zM1224.06 866.7v-17.1h0.83v17.1zM1225.19 866.7v-8.91h0.83v8.91zM1226.32 866.7v-7.98h0.83v7.98zM1227.44 866.7v-14.94h0.83v14.94zM1228.57 866.7v-22.06h0.83v22.06zM1229.7 866.7v-14.31h0.83v14.31zM1230.83 866.7v-18.37h0.83v18.37zM1231.96 866.7v-19.06h0.83v19.06zM1233.09 866.7v-10.59h0.83v10.59zM1234.21 866.7v-11.15h0.83v11.15zM1235.34 866.7v-16.36h0.83v16.36zM1236.47 866.7v-9.48h0.83v9.48zM1237.6 866.7v-16.67h0.83v16.67zM1238.73 866.7v-15.04h0.83v15.04zM1239.86 866.7v-19.95h0.83v19.95zM1240.98 866.7v-12.28h0.83v12.28zM1242.11 866.7v-8.47h0.83v8.47zM1243.24 866.7v-13.91h0.83v13.91zM1244.37 866.7v-15.95h0.83v15.95zM1245.5 866.7v-12.87h0.83v12.87zM1246.63 866.7v-15.2h0.83v15.2zM1247.75 866.7v-11.61h0.83v11.61zM1248.88 866.7v-14.09h0.83v14.09zM1250.01 866.7v-10.16h0.83v10.16zM1251.14 866.7v-11.14h0.83v11.14zM1252.27 866.7v-15.24h0.83v15.24zM1253.39 866.7v-17.66h0.83v17.66zM1254.52 866.7v-15.81h0.83v15.81zM1255.65 866.7v-16h0.83v16zM1256.78 866.7v-19.44h0.83v19.44zM1257.91 866.7v-11.75h0.83v11.75zM1259.04 866.7v-13.51h0.83v13.51zM1260.16 866.7v-32.1h0.83v32.1zM1261.29 866.7v-14.93h0.83v14.93zM1262.42 866.7v-21.31h0.83v21.31zM1263.55 866.7v-18.14h0.83v18.14zM1264.68 866.7v-9.1h0.83v9.1zM1265.81 866.7v-9.74h0.83v9.74zM1266.93 866.7v-12.5h0.83v12.5zM1268.06 866.7v-16.6h0.83v16.6zM1269.19 866.7v-11.68h0.83v11.68zM1270.32 866.7v-12.24h0.83v12.24zM1271.45 866.7v-17.47h0.83v17.47zM1272.57 866.7v-12.86h0.83v12.86zM1273.7 866.7v-10.19h0.83v10.19zM1274.83 866.7v-9.28h0.83v9.28zM1275.96 866.7v-12.3h0.83v12.3zM1277.09 866.7v-13.62h0.83v13.62zM1278.22 866.7v-17.35h0.83v17.35zM1279.34 866.7v-13.93h0.83v13.93zM1280.47 866.7v-11.94h0.83v11.94zM1281.6 866.7v-10.69h0.83v10.69zM1282.73 866.7v-7.84h0.83v7.84zM1283.86 866.7v-11.67h0.83v11.67zM1284.99 866.7v-26h0.83v26zM1286.11 866.7v-13.16h0.83v13.16zM1287.24 866.7v-12.23h0.83v12.23zM1288.37 866.7v-9.95h0.83v9.95zM1289.5 866.7v-11.39h0.83v11.39zM1290.63 866.7v-7.9h0.83v7.9zM1291.76 866.7v-11.06h0.83v11.06zM1292.88 866.7v-12.66h0.83v12.66zM1294.01 866.7v-9.21h0.83v9.21zM1295.14 866.7v-12.43h0.83v12.43zM1296.27 866.7v-28h0.83v28zM1297.4 866.7v-14.92h0.83v14.92zM1298.52 866.7v-10.43h0.83v10.43zM1299.65 866.7v-10.08h0.83v10.08zM1300.78 866.7v-11.56h0.83v11.56zM1301.91 866.7v-11.57h0.83v11.57zM1303.04 866.7v-12.92h0.83v12.92zM1304.17 866.7v-10.62h0.83v10.62zM1305.29 866.7v-7.1h0.83v7.1zM1306.42 866.7v-8.9h0.83v8.9zM1307.55 866.7v-19.35h0.83v19.35zM1308.68 866.7v-18.49h0.83v18.49zM1309.81 866.7v-13.41h0.83v13.41zM1310.94 866.7v-14.82h0.83v14.82zM1312.06 866.7v-22.29h0.83v22.29zM1313.19 866.7v-6.75h0.83v6.75zM1314.32 866.7v-10.31h0.83v10.31zM1315.45 866.7v-14.58h0.83v14.58zM1316.58 866.7v-11.02h0.83v11.02zM1317.71 866.7v-14.86h0.83v14.86zM1318.83 866.7v-15.43h0.83v15.43zM1319.96 866.7v-9.74h0.83v9.74zM1321.09 866.7v-6.38h0.83v6.38zM1322.22 866.7v-6.14h0.83v6.14zM1323.35 866.7v-14.3h0.83v14.3zM1324.47 866.7v-9.45h0.83v9.45zM1325.6 866.7v-11.72h0.83v11.72zM1326.73 866.7v-11.19h0.83v11.19zM1327.86 866.7v-10.33h0.83v10.33zM1328.99 866.7v-7.2h0.83v7.2zM1330.12 866.7v-9.23h0.83v9.23zM1331.24 866.7v-11.71h0.83v11.71zM1332.37 866.7v-9.87h0.83v9.87zM1333.5 866.7v-11.88h0.83v11.88zM1334.63 866.7v-8.79h0.83v8.79zM1335.76 866.7v-7.96h0.83v7.96zM1336.89 866.7v-7.44h0.83v7.44zM1338.01 866.7v-11.34h0.83v11.34zM1339.14 866.7v-15.65h0.83v15.65zM1340.27 866.7v-13.36h0.83v13.36zM1341.4 866.7v-13.4h0.83v13.4zM1342.53 866.7v-13.48h0.83v13.48zM1343.65 866.7v-12.11h0.83v12.11zM1344.78 866.7v-9.37h0.83v9.37zM1345.91 866.7v-12.08h0.83v12.08zM1347.04 866.7v-15.14h0.83v15.14zM1348.17 866.7v-20.83h0.83v20.83zM1349.3 866.7v-15.23h0.83v15.23zM1350.42 866.7v-15.17h0.83v15.17zM1351.55 866.7v-11.6h0.83v11.6zM1352.68 866.7v-7.37h0.83v7.37zM1353.81 866.7v-9.44h0.83v9.44zM1354.94 866.7v-11.61h0.83v11.61zM1356.07 866.7v-9.85h0.83v9.85zM1357.19 866.7v-18.42h0.83v18.42zM1358.32 866.7v-17.93h0.83v17.93zM1359.45 866.7v-10.57h0.83v10.57zM1360.58 866.7v-6.72h0.83v6.72zM1361.71 866.7v-19.32h0.83v19.32zM1362.84 866.7v-42h0.83v42zM1363.96 866.7v-21.3h0.83v21.3zM1365.09 866.7v-21.79h0.83v21.79zM1366.22 866.7v-32.11h0.83v32.11zM1367.35 866.7v-25.15h0.83v25.15zM1368.48 866.7v-19.32h0.83v19.32zM1369.6 866.7v-19.5h0.83v19.5zM1370.73 866.7v-18.74h0.83v18.74zM1371.86 866.7v-22.74h0.83v22.74zM1372.99 866.7v-15.59h0.83v15.59zM1374.12 866.7v-26.86h0.83v26.86zM1375.25 866.7v-15.72h0.83v15.72zM1376.37 866.7v-16.37h0.83v16.37zM1377.5 866.7v-25.97h0.83v25.97zM1378.63 866.7v-20.44h0.83v20.44zM1379.76 866.7v-17.26h0.83v17.26zM1380.89 866.7v-15.45h0.83v15.45zM1382.02 866.7v-11.3h0.83v11.3zM1383.14 866.7v-23.84h0.83v23.84zM1384.27 866.7v-10.68h0.83v10.68zM1385.4 866.7v-12.66h0.83v12.66zM1386.53 866.7v-20.75h0.83v20.75zM1387.66 866.7v-23.33h0.83v23.33zM1388.78 866.7v-31.82h0.83v31.82zM1389.91 866.7v-29.33h0.83v29.33zM1391.04 866.7v-19.12h0.83v19.12zM1392.17 866.7v-14.99h0.83v14.99zM1393.3 866.7v-18.84h0.83v18.84zM1394.43 866.7v-22.78h0.83v22.78zM1395.55 866.7v-17.95h0.83v17.95zM1396.68 866.7v-33.1h0.83v33.1zM1397.81 866.7v-17.43h0.83v17.43zM1398.94 866.7v-20.64h0.83v20.64zM1400.07 866.7v-17.52h0.83v17.52zM1401.2 866.7v-38h0.83v38zM1402.32 866.7v-24.72h0.83v24.72zM1403.45 866.7v-24.38h0.83v24.38zM1404.58 866.7v-19.25h0.83v19.25zM1405.71 866.7v-21.21h0.83v21.21zM1406.84 866.7v-24.43h0.83v24.43zM1407.97 866.7v-23.21h0.83v23.21zM1409.09 866.7v-21.78h0.83v21.78zM1410.22 866.7v-32.7h0.83v32.7zM1411.35 866.7v-22.74h0.83v22.74zM1412.48 866.7v-15.52h0.83v15.52zM1413.61 866.7v-12.09h0.83v12.09zM1414.73 866.7v-18.78h0.83v18.78zM1415.86 866.7v-12.05h0.83v12.05zM1416.99 866.7v-18.81h0.83v18.81zM1418.12 866.7v-36h0.83v36zM1419.25 866.7v-23.2h0.83v23.2zM1420.38 866.7v-22.19h0.83v22.19zM1421.5 866.7v-23.93h0.83v23.93zM1422.63 866.7v-21.21h0.83v21.21zM1423.76 866.7v-11.87h0.83v11.87zM1424.89 866.7v-20.55h0.83v20.55zM1426.02 866.7v-29.87h0.83v29.87zM1427.15 866.7v-51.59h0.83v51.59zM1428.27 866.7v-26.12h0.83v26.12zM1429.4 866.7v-26.77h0.83v26.77zM1430.53 866.7v-15.97h0.83v15.97zM1431.66 866.7v-10.3h0.83v10.3zM1432.79 866.7v-19.92h0.83v19.92zM1433.92 866.7v-22.82h0.83v22.82zM1435.04 866.7v-18.84h0.83v18.84zM1436.17 866.7v-23.95h0.83v23.95zM1437.3 866.7v-25.08h0.83v25.08zM1438.43 866.7v-19.76h0.83v19.76zM1439.56 866.7v-16.2h0.83v16.2zM1440.68 866.7v-29.41h0.83v29.41zM1441.81 866.7v-30.08h0.83v30.08zM1442.94 866.7v-27.68h0.83v27.68zM1444.07 866.7v-30.36h0.83v30.36zM1445.2 866.7v-27.04h0.83v27.04zM1446.33 866.7v-27.72h0.83v27.72zM1447.45 866.7v-14.93h0.83v14.93zM1448.58 866.7v-27.48h0.83v27.48zM1449.71 866.7v-27.38h0.83v27.38zM1450.84 866.7v-45h0.83v45zM1451.97 866.7v-24.83h0.83v24.83zM1453.1 866.7v-30.39h0.83v30.39zM1454.22 866.7v-29.7h0.83v29.7zM1455.35 866.7v-30.5h0.83v30.5zM1456.48 866.7v-31.48h0.83v31.48zM1457.61 866.7v-24.74h0.83v24.74zM1458.74 866.7v-21.42h0.83v21.42zM1459.86 866.7v-23.96h0.83v23.96zM1460.99 866.7v-26.46h0.83v26.46zM1462.12 866.7v-20.19h0.83v20.19zM1463.25 866.7v-16.98h0.83v16.98zM1464.38 866.7v-29.7h0.83v29.7zM1465.51 866.7v-31.75h0.83v31.75zM1466.63 866.7v-32.37h0.83v32.37zM1467.76 866.7v-28.61h0.83v28.61zM1470.02 866.7v-12.87h0.83v12.87zM1471.15 866.7v-11.76h0.83v11.76zM1472.28 866.7v-14.45h0.83v14.45zM1473.4 866.7v-16.96h0.83v16.96zM1474.53 866.7v-15.01h0.83v15.01zM1475.66 866.7v-20.24h0.83v20.24zM1476.79 866.7v-22.94h0.83v22.94zM1477.92 866.7v-26.09h0.83v26.09zM1479.05 866.7v-30.45h0.83v30.45zM1480.17 866.7v-28.8h0.83v28.8zM1481.3 866.7v-38.4h0.83v38.4zM1482.43 866.7v-47.77h0.83v47.77zM1483.56 866.7v-33.66h0.83v33.66zM1484.69 866.7v-46.34h0.83v46.34zM1485.81 866.7v-31.77h0.83v31.77zM1486.94 866.7v-22.76h0.83v22.76zM1488.07 866.7v-19.23h0.83v19.23zM1489.2 866.7v-28.96h0.83v28.96zM1490.33 866.7v-25.36h0.83v25.36zM1491.46 866.7v-31.82h0.83v31.82zM1492.58 866.7v-39.19h0.83v39.19zM1493.71 866.7v-37.83h0.83v37.83zM1494.84 866.7v-20.43h0.83v20.43zM1495.97 866.7v-26.94h0.83v26.94zM1497.1 866.7v-31.72h0.83v31.72zM1498.23 866.7v-23.5h0.83v23.5zM1499.35 866.7v-30.3h0.83v30.3zM1500.48 866.7v-31.71h0.83v31.71zM1501.61 866.7v-30.7h0.83v30.7zM1502.74 866.7v-21.44h0.83v21.44zM1503.87 866.7v-26.54h0.83v26.54zM1505 866.7v-66.49h0.83v66.49zM1506.12 866.7v-51.04h0.83v51.04zM1507.25 866.7v-71.13h0.83v71.13zM1508.38 866.7v-58.5h0.83v58.5zM1509.51 866.7v-42.32h0.83v42.32zM1510.64 866.7v-39.84h0.83v39.84zM1511.76 866.7v-57.06h0.83v57.06zM1512.89 866.7v-87h0.83v87zM1514.02 866.7v-69.75h0.83v69.75zM1515.15 866.7v-64.74h0.83v64.74zM1516.28 866.7v-58h0.83v58zM1517.41 866.7v-58.78h0.83v58.78zM1518.53 866.7v-62h0.83v62zM1519.66 866.7v-87.86h0.83v87.86zM1520.79 866.7v-81.49h0.83v81.49zM1521.92 866.7v-68.5h0.83v68.5zM1523.05 866.7v-60.22h0.83v60.22zM1524.18 866.7v-70h0.83v70zM1525.3 866.7v-48.05h0.83v48.05zM1526.43 866.7v-38.82h0.83v38.82zM1527.56 866.7v-72h0.83v72zM1528.69 866.7v-65.65h0.83v65.65zM1529.82 866.7v-39.68h0.83v39.68zM1530.94 866.7v-49.23h0.83v49.23zM1532.07 866.7v-64.24h0.83v64.24zM1533.2 866.7v-50.52h0.83v50.52zM1534.33 866.7v-43.36h0.83v43.36zM1535.46 866.7v-59.78h0.83v59.78zM1536.59 866.7v-77.11h0.83v77.11z" fill="#ebeff2"/>
<line x1="20" x2="1537.5" y1="867" y2="867" stroke="#eef0f3" stroke-width="1.5"/>
<line x1="204.7" x2="204.7" y1="867" y2="885" stroke="#e9ebee" stroke-width="1.4"/>
<text x="206.2" y="903.5" font-size="23.5" fill="#64748b" text-anchor="middle">Jan '21</text>
<line x1="409" x2="409" y1="867" y2="885" stroke="#e9ebee" stroke-width="1.4"/>
<text x="410.5" y="903.5" font-size="23.5" fill="#64748b" text-anchor="middle">Jul '21</text>
<line x1="615" x2="615" y1="867" y2="885" stroke="#e9ebee" stroke-width="1.4"/>
<text x="616.5" y="903.5" font-size="23.5" fill="#64748b" text-anchor="middle">Jan '22</text>
<line x1="819.4" x2="819.4" y1="867" y2="885" stroke="#e9ebee" stroke-width="1.4"/>
<text x="820.9" y="903.5" font-size="23.5" fill="#64748b" text-anchor="middle">Jul '22</text>
<line x1="1027.4" x2="1027.4" y1="867" y2="885" stroke="#e9ebee" stroke-width="1.4"/>
<text x="1028.9" y="903.5" font-size="23.5" fill="#64748b" text-anchor="middle">Jan '23</text>
<line x1="1231" x2="1231" y1="867" y2="885" stroke="#e9ebee" stroke-width="1.4"/>
<text x="1232.5" y="903.5" font-size="23.5" fill="#64748b" text-anchor="middle">Jul '23</text>
<line x1="1439" x2="1439" y1="867" y2="885" stroke="#e9ebee" stroke-width="1.4"/>
<text x="1440.5" y="903.5" font-size="23.5" fill="#64748b" text-anchor="middle">Jan '24</text>
<path d="M20.2 603.7 L22.4 601.2 L24.6 600.4 L26.8 597.1 L27.9 589.1 L30.5 586.6 L32.7 584 L33.9 580.3 L35.2 586.1 L36.6 584.2 L38.6 581 L41.5 580.7 L44 579.9 L45.4 583.2 L47.3 580.3 L50.3 578.8 L51.7 575.9 L53.9 579.3 L56.9 581.8 L59 580.7 L61.2 583.2 L63 584.2 L65.3 581.8 L67.8 579.6 L69.3 579.3 L70.3 584 L71.2 594.2 L73.7 594.5 L75.6 593.5 L77.3 595.4 L79.5 593.9 L81.7 592.7 L83.9 589.8 L86.1 587.6 L89.1 586.9 L91.3 591.3 L93.5 594.2 L94.9 590.1 L97.8 589.5 L100.5 589.1 L103 590.5 L105.2 591.6 L107.4 590.1 L109.3 590.5 L111.8 586.9 L114.7 582.5 L116.9 583.2 L119.1 582.8 L121 584.2 L123 581.8 L124.5 577.4 L125.7 570 L128.3 568.6 L130.1 569 L131.8 564.2 L133.3 566.4 L135.9 563.5 L137.4 562.7 L138.8 564.2 L140.6 559.8 L141.8 547.3 L143.5 546.6 L144.7 551.7 L146.9 548.1 L148.4 548.8 L150.3 540.8 L152 539.7 L153.8 542.2 L155.2 532.7 L156.4 527.6 L158.2 523.9 L159 519.5 L160.8 518.8 L162.3 518.1 L163.4 515.1 L164.9 519.5 L165.9 532 L167.4 531.2 L168.9 521 L170.3 510.7 L171.8 512.9 L173.3 511.9 L174.7 517.3 L176.2 512.9 L178.1 514 L179.8 520.3 L181.3 522.5 L183.1 523.9 L184.5 517.3 L185.7 515.1 L187.2 512.9 L188.3 494.6 L189.4 481.5 L189.7 478.6 L191.2 471.8 L192.8 472.6 L194.3 481.7 L195.5 477.1 L197 471.1 L198.1 458.9 L198.8 449.8 L200.6 446 L203 437.8 L203.8 428.3 L206.1 423.5 L207.2 401.3 L208.2 390.3 L210.1 404.5 L211.7 363.3 L213.3 328.5 L214.5 319.8 L216.1 325.3 L217.7 355.4 L219 382.3 L219.9 352.3 L221.2 334 L222.4 347.5 L223.5 363.3 L225.1 357.8 L225.9 364.9 L227.2 361 L228.3 366.5 L229.1 409.3 L230.7 391.1 L231.6 399.8 L233 395 L234.6 394.2 L235.7 414 L237 390.3 L238.3 379.2 L239.4 379.2 L240.5 390.3 L241.8 387.1 L243 350.7 L244.1 349.9 L245.2 355.4 L246.8 334 L248.4 338 L249 315.8 L249.4 300 L250.5 268.5 L251.6 284.4 L252.8 257.1 L254.6 266.2 L256.2 250.3 L257.8 257.1 L259.1 219.5 L260.5 223 L261.9 184.2 L264.2 169.4 L265.3 195.6 L266.9 236.6 L268.3 250.3 L269.8 268.5 L271.7 283.3 L273.3 245.7 L275.5 233.2 L276.7 250.3 L278.3 245.7 L279.6 223 L281.2 202.5 L282.8 179.7 L284.2 167.2 L285.1 163.8 L286.2 136.4 L287.4 150.1 L288.7 186.5 L290.3 158.1 L291.5 177.4 L293.3 162.6 L294.9 163.8 L296.5 186.5 L297.9 201.3 L300.1 225.2 L301.7 188.8 L303.3 184.2 L305.1 161.5 L307 159.2 L308.6 156.9 L310.1 175.1 L311.5 160.3 L313.1 166 L314.7 183.1 L316.1 168.3 L317.7 149 L319.3 147.8 L320.6 117.1 L322 116.4 L323.8 121.6 L325.6 138.7 L327.4 154.6 L328.6 186.5 L329.7 182 L331.3 207 L332.9 227.5 L334.7 248 L335.9 202.5 L337.5 193.4 L339.3 207 L340.4 168.3 L342 168.3 L343.4 188.8 L345 207 L346.1 172.9 L347.9 170.6 L349.3 160.3 L350.7 161.5 L352 185.4 L353.2 176.3 L354.3 236.6 L356.4 240 L357.5 266.2 L358.6 269.6 L359.8 293.5 L360.9 300.4 L361.5 320.6 L362.1 352.3 L363.7 323.8 L365 347.5 L366.5 373.6 L368.1 341.2 L370 332.5 L371.6 347.5 L372.9 375.2 L374.8 352.3 L376.7 351.5 L378.7 334.8 L380.3 350.7 L381.9 368.1 L383.5 387.1 L384.6 386.3 L385.9 349.1 L387.8 355.4 L389 367.3 L390.6 323.8 L391.9 321.4 L393 325.3 L394.1 341.2 L395.4 345.1 L396.6 366.5 L398.2 364.9 L399.2 402.9 L400.9 376 L402.5 374.4 L403.3 400.6 L404.9 399.8 L406.4 374.4 L408 363.3 L409.3 371.3 L410.9 384.7 L412.8 369.7 L414.4 368.9 L415.9 380.8 L417.2 382.3 L418.3 391.8 L419.9 382.3 L421.5 378.4 L423.1 385.5 L424.7 391.8 L425.8 391.1 L427 402.9 L428.6 405.3 L429.9 399.8 L431.8 418 L433.4 396.6 L435.3 390.3 L437.3 371.3 L438.9 347.5 L440.2 327.7 L441.7 314.1 L442.9 309.8 L444.5 313.3 L446 324.7 L447.5 333.8 L448.6 330.8 L450.1 303.4 L451.2 287.4 L452.4 286.7 L453.3 291.2 L453.9 271.5 L455.1 270.7 L456 279.1 L456.9 287.4 L458.2 260.8 L459.1 258.5 L460.3 263.9 L461.5 266.1 L462.4 276 L463.3 287.9 L464.5 282.1 L465.8 257.8 L466.7 244.9 L467.9 245.6 L468.8 244.1 L469.9 241.8 L470.9 250.2 L471.8 257 L472.9 245.6 L473.7 263.1 L474.9 246.4 L475.9 247.1 L477 264.6 L478.2 247.9 L479.1 261.6 L480.5 246.4 L482 241.1 L483.2 237.3 L484.3 224.3 L485.5 213.7 L486.4 214 L487 238 L487.7 256.3 L488.6 269.2 L489.6 270.7 L490.7 285.2 L491.9 274.5 L492.8 282.1 L493.7 276 L494.6 263.9 L495.7 254 L496.8 260.8 L498 254.7 L499.2 253.2 L500.3 260.8 L501.3 276 L502.3 297.3 L502.9 324.7 L504.1 285.2 L505.3 283.3 L506.2 303.4 L507.1 297.3 L508.3 298.8 L509.5 306.4 L510.9 319.4 L512 312.5 L512.9 291.2 L513.8 260.8 L514.7 254.7 L515.9 253.2 L517.2 245.6 L518.1 230.4 L519 206.1 L519.2 191.1 L520.1 189.5 L521.7 203.6 L523.3 195.8 L524.5 171.4 L525.8 170.6 L526.7 180 L528 167.5 L529.1 132.9 L530.7 132.1 L531.4 137.6 L532.7 131.3 L533.8 109.3 L534.9 93.6 L536.2 93.3 L536.9 117.2 L537.7 139.2 L539 129.7 L540.1 121.9 L541.2 119.5 L542.1 137.6 L543.2 161.2 L544.3 148.6 L545.6 129 L546.8 129.7 L547.9 134.5 L549 138.4 L550 120.3 L551.1 120 L552.2 129.7 L553.5 137.6 L554.4 134.5 L555.3 120.3 L556.3 81 L557.4 80.2 L558.5 85.7 L559.4 99.9 L560.5 106.2 L561.6 108.5 L562.6 99.9 L563.7 98.3 L564.8 103 L565.7 121.9 L566.7 143.9 L567.6 151.7 L568.2 175.3 L569.2 148.6 L570.4 147.8 L571.4 154.9 L572.3 180.8 L573.6 170.6 L574.5 167.5 L575.5 159.6 L576.4 158.8 L577 203.6 L578.3 195.8 L579.4 172.2 L580.5 168.3 L581.7 172.2 L583 173.8 L584.1 176.9 L584.9 186.3 L585.7 203.6 L585.9 233.5 L586.5 245.6 L588 239.5 L589.5 231.9 L590.8 235.7 L591.5 257.8 L593 245.6 L594.1 262.3 L595.3 237.3 L596.5 266.9 L597.7 250.2 L599 247.9 L599.9 260.8 L601.1 271.5 L602.6 265.4 L604.1 263.9 L605.4 250.2 L606.6 245.6 L607.5 230.4 L609 230.1 L610.8 230.4 L612.3 231.9 L613.3 250.2 L614.2 266.9 L615.4 270 L616.6 270.7 L617.8 257.8 L618.9 258.5 L620 263.9 L621.2 271.5 L622.4 285.2 L623.3 297.3 L624.5 314.1 L625.7 313.3 L627.3 311 L628.8 303.4 L630 303.2 L630.8 291.8 L631.8 298.7 L633 300.2 L634.3 299.4 L635.3 303.2 L636.8 306.3 L638.4 312.3 L639.4 321.5 L640 341.2 L640.6 359.5 L641.6 371.7 L642.5 365.6 L643.4 356.4 L644.9 354.9 L646 353.4 L647 350.4 L648.2 345 L649.5 342 L650.7 347.3 L651.6 339.7 L652.8 337.4 L653.6 354.9 L654.8 354.2 L655.4 313.9 L656.6 312.3 L657.4 307.8 L658.6 295.6 L659.7 291.1 L661.2 288.3 L662.2 289.5 L663.2 297.1 L664.2 306.3 L665.7 307.8 L666.8 303.2 L667.7 288 L668.8 286.5 L669.8 292.6 L670.8 310.8 L671.7 324.5 L672.9 326 L673.8 335.2 L674.9 354.2 L675.9 353.4 L676.8 342.8 L677.9 350.4 L679 333.6 L679.9 333.3 L680.9 341.2 L682 347.3 L682.9 295.6 L684 287.7 L685 288 L686 294.1 L686.9 313.9 L687.8 335.2 L689 339.7 L690.1 332.9 L691.1 345 L692.3 326 L693.3 310.1 L694.2 323 L695.1 339.7 L696.3 335.2 L697.5 347.3 L698.7 335.2 L699.6 334.4 L700.7 318.4 L701.8 316.9 L703 312.3 L704.2 307.8 L705.3 310.8 L706.3 318.4 L707.3 319.2 L708.3 307.8 L709.4 298.7 L710.6 291.1 L711.8 288 L712.9 271.3 L713.9 265.2 L715.5 260.9 L716.7 262.2 L717.9 277.4 L719 278.1 L720 274.3 L721.2 269 L722.8 268.2 L724 277.4 L725 295.6 L726.1 298.7 L727.3 307 L728.5 303.2 L729.6 306.3 L730.4 332.1 L731.6 323 L732.6 316.9 L733.7 318.4 L734.6 328.3 L735.7 323 L736.4 324.5 L737.4 329.8 L738.3 318.4 L739.5 313.9 L740.7 314.6 L741.8 320 L742.8 327.6 L744.1 326 L745.3 330.6 L746.3 323.8 L747.1 345 L748.3 342.8 L749.4 329.8 L750.1 330.6 L751 346.6 L752.3 341.2 L753.2 347.3 L754.4 341.2 L755.5 348.8 L756.2 330.6 L757.1 330.3 L757.7 348.8 L758.5 359.5 L759.6 364.1 L760.5 370.1 L761.1 379.3 L761.8 403.4 L762.5 415.4 L763.3 409 L764 427.4 L765.7 424.7 L767 421 L768.1 408.1 L769.2 405.3 L770.3 412.7 L771.2 420 L772.1 428.3 L773.6 413.6 L774.9 421.9 L776.2 414.5 L777.3 414.1 L778.6 423.7 L779.9 421.9 L781 424.7 L782.3 429.3 L783.6 424.7 L784.7 416.4 L785.4 401.6 L786.9 400.7 L788 412.7 L789.1 414.5 L790.2 419.1 L791.5 418.2 L792.8 405.3 L794.3 404.9 L795.7 409 L797 417.3 L798.3 425.6 L799.4 433 L800.5 447.7 L801.3 468 L801.6 484.6 L802.7 486.4 L803.9 484.6 L804.6 503 L805.7 504.9 L806.8 515 L808.1 502.1 L809.4 501.2 L810.5 506.7 L811.8 499.3 L813.1 495.7 L814.6 492.9 L816 497.5 L817.5 503 L819.2 507.6 L821 512.3 L823.4 513.2 L824.9 505.8 L826.4 503 L827.8 493.8 L829.3 490.5 L830.8 493.8 L832.3 503 L833.9 512.3 L835.8 503 L837.6 498.4 L839.5 496.6 L840.7 482.7 L841.8 476.3 L843.3 476.8 L845 480 L846.8 484.6 L848.7 493.8 L849.6 495.7 L851.1 475.4 L852.4 472.1 L854.2 473.5 L856.6 477.2 L858.8 480.9 L860.3 482.4 L862.1 479.1 L863.4 478.1 L864.7 473.5 L866.2 477.2 L867.7 471.7 L869.5 467.1 L871.4 467.6 L873.2 469.8 L875 474.5 L876.3 479.1 L877.3 497.5 L878.7 495.7 L880 492 L881.9 492.9 L883.7 492 L885 503 L886.5 508.6 L888 509.5 L889.2 504.9 L891.1 507.6 L892.9 505.8 L894.8 507.6 L896.1 510.4 L897.5 516.9 L899 510.4 L900.3 493.8 L901.6 491 L903.1 487.4 L904.2 486.1 L905.3 503 L906.8 508.6 L908.6 505.8 L910.1 506.7 L911.4 512.3 L912.7 513.2 L914.1 519.6 L915.6 512.3 L916.9 515.9 L918.8 515 L920.6 513.2 L922.4 511.3 L924.3 510.8 L926.1 515 L927.4 508.6 L928.9 503.4 L930.4 505.8 L932.2 510.4 L934.1 512.3 L936.3 514.1 L938.1 513.2 L940 514.1 L941.8 513.2 L943.3 510.8 L945.1 514.1 L947 515.9 L948.8 514.1 L950.7 512.3 L952 507.6 L953.2 501.2 L954.7 499.3 L956.2 501.2 L957.5 500.3 L958.8 503 L960.3 504 L962.1 504.9 L963.6 497.5 L964.9 495.7 L966.2 498.4 L967.3 503 L968.2 523.3 L969.1 544.5 L970.4 532.5 L971.3 528.9 L972.8 539.9 L974.1 538.1 L975.9 534.4 L977.8 536.2 L979.6 535.3 L981.5 539.9 L982.8 543.6 L984.2 538.1 L985.7 537.2 L987.6 538.1 L989.4 539 L991.2 540.8 L993.1 532.5 L994.9 532.2 L996.8 533.5 L998.6 532.5 L1000 534.7 L1002.1 532.1 L1004.3 533.8 L1006.1 532.9 L1007.3 526.9 L1009 526.5 L1010.4 533.8 L1011.8 537.3 L1013.5 538.2 L1014.7 539 L1016 534.7 L1017.7 535.6 L1019.4 534.7 L1021.7 534.2 L1023.4 536.4 L1025.7 538.2 L1027.8 538.2 L1030.4 537.3 L1033 535.6 L1035.6 534.2 L1037.8 532.4 L1039.6 528.6 L1040.8 519.9 L1041.6 509.5 L1042.7 499.1 L1044.2 497.4 L1046 496 L1047.2 499.1 L1048.6 500.5 L1049.6 492.2 L1050.3 482.6 L1051.7 481.4 L1053.1 480 L1054.5 483.5 L1055.9 479.2 L1057.3 478.3 L1058.7 480.4 L1059.9 473.1 L1061.1 472.7 L1062.1 480.9 L1063.3 474.8 L1064.5 474.5 L1065.9 476.2 L1067.7 478.3 L1069.1 481.8 L1070.4 477.9 L1071.8 481.8 L1072.9 489.6 L1074.3 492.2 L1076 491.3 L1077.7 489.6 L1079 476.6 L1079.8 467 L1081.6 465.3 L1083.3 466.1 L1085 464.1 L1086.4 466.1 L1088.1 470.5 L1089.4 473.1 L1090.2 478.3 L1092 478.6 L1093.4 475.7 L1095.1 474.8 L1096.5 478.3 L1097.5 484.4 L1099.3 486.1 L1101 485.2 L1102.7 488.7 L1103.8 497.4 L1105 503.5 L1106.2 504.3 L1107.2 499.1 L1108.3 478.3 L1109.3 466.1 L1110.4 464.4 L1111.4 466.1 L1112.4 454 L1113.5 441 L1114.5 439.2 L1115.6 434 L1116.6 439.2 L1118 432.3 L1119.4 440.1 L1120.6 431.4 L1121.8 436.6 L1123.2 435.8 L1124.6 441.9 L1125.8 442.7 L1127 434 L1128.4 432.3 L1130.1 430.6 L1131.5 432.3 L1132.9 436.6 L1134.5 434.9 L1136.2 435.8 L1137.9 436.3 L1139.3 434 L1140.2 423.6 L1141.4 415.8 L1143.2 413.7 L1144.9 412.7 L1146.1 415 L1147.5 413.2 L1148.9 416.7 L1149.9 413.7 L1151 426.2 L1152 436.6 L1153 441.5 L1154.8 439.8 L1156.5 440.1 L1158.3 433.2 L1159.6 422.8 L1161 421.9 L1162.4 423.6 L1163.5 434 L1164.8 433.2 L1166.2 426.2 L1167.4 421.9 L1169.2 421.4 L1170.4 426.2 L1171.8 432.3 L1173.2 438.4 L1174.6 441 L1176.1 446.2 L1177.9 445.3 L1179.6 443.6 L1181.3 441.5 L1182.5 440.5 L1183.9 444.5 L1185.3 442.7 L1187.1 443.6 L1188.8 441.9 L1190 448.8 L1191.2 450.2 L1192.6 446.2 L1194 436.6 L1195 434 L1196.4 437.5 L1197.8 440.1 L1199.2 445.3 L1200.4 441 L1201.8 441.9 L1203 447.1 L1204.1 454.9 L1205.1 441.9 L1206.5 447.9 L1207.9 450.5 L1209.1 453.1 L1210.8 454 L1212.6 456.6 L1213.8 460.9 L1215.2 455.7 L1216.6 450.5 L1217.9 448.8 L1219.3 446.2 L1220.4 429.7 L1221.4 416.7 L1222.8 414.1 L1223.8 411.5 L1225.2 412.7 L1226.6 412.4 L1228 411.5 L1229.4 415.8 L1230.8 412.4 L1232.2 413.2 L1233.6 411 L1234.9 407.1 L1236.3 409.2 L1237.7 413.7 L1239.1 417.6 L1240.8 415 L1242.6 414.4 L1244.3 412.4 L1245.5 411.5 L1246.4 403.7 L1247.4 404 L1248.1 412.4 L1249.5 413.7 L1251.3 415.5 L1253 416.7 L1254.7 418.4 L1256.5 417.9 L1257.9 416.7 L1258.9 423.6 L1260.3 424.8 L1262 424.5 L1263.8 423.6 L1265.5 424.2 L1267.2 422.8 L1268.6 422.4 L1270 424.6 L1271.2 425.3 L1272.6 426 L1274 426.3 L1275.1 423.2 L1276.1 418.7 L1277.1 419.7 L1278.2 421.8 L1279.6 422.5 L1281 421.8 L1282.4 422.1 L1283.6 424.6 L1284.4 431.7 L1285.3 445.8 L1286.1 452.8 L1287.4 453.1 L1288.8 452.1 L1290.2 452.8 L1291.2 452.6 L1292.3 450 L1293 448.6 L1294 452.1 L1295.1 452.8 L1296.5 453.5 L1297.7 452.8 L1298.7 441.6 L1299.4 437 L1300.5 437.3 L1301.3 444.4 L1302.2 454.2 L1303.3 455.4 L1304.7 453.5 L1306.1 455 L1307.5 454.5 L1308.7 455.9 L1309.8 451.4 L1310.9 452.8 L1312.1 455.7 L1313.2 460.6 L1314.2 461.6 L1315.2 458.5 L1316 452.8 L1317.1 449.3 L1318.3 447.9 L1319.4 447.5 L1320.5 447.9 L1321.7 448.6 L1322.5 443 L1323.3 441.6 L1324.5 444.4 L1325.6 446.5 L1326.9 447.9 L1327.9 450 L1329 451.4 L1330.4 450.7 L1331.5 451.4 L1332.7 447.9 L1333.8 445.1 L1334.6 444.4 L1335.8 438.7 L1336.6 435.6 L1337.7 438 L1338.6 439.4 L1339.7 435.9 L1340.8 440.4 L1342 435.9 L1343.1 434.8 L1344.2 435.9 L1345.3 437.3 L1346.5 440.4 L1347.6 444.4 L1348.7 447.2 L1349.9 447.5 L1351 446.5 L1352.1 445.1 L1353 438.7 L1353.8 430.3 L1354.9 432.4 L1356.1 431.7 L1357.2 427.4 L1358.3 420.4 L1359.4 417.6 L1360.3 413.3 L1360.9 399.2 L1361.4 386.5 L1362.3 380.9 L1363.1 377.4 L1364.2 378.8 L1365.1 382.3 L1365.9 383 L1367.1 380.9 L1368.2 378.1 L1369.3 377.4 L1370.2 373.9 L1371 368.9 L1371.9 368.2 L1372.7 371.7 L1373.8 375.3 L1375 373.9 L1376.1 373.1 L1377.2 372.7 L1378.1 370.3 L1379.1 365.4 L1380 356.9 L1381.2 352 L1382 351.3 L1383.1 354.1 L1384.3 356.9 L1385.1 364 L1386 368.2 L1386.8 358.3 L1387.4 346.3 L1388.2 347.1 L1389.1 363.3 L1389.9 359.7 L1390.8 354.1 L1391.6 355.5 L1392.5 351.3 L1393.3 350.6 L1394.1 364.7 L1395 358.3 L1395.8 350.6 L1396.7 352 L1397.8 347.8 L1398.9 347.1 L1400.1 349.9 L1401.2 353.4 L1402.3 348.5 L1403.5 347.1 L1404.6 349.2 L1405.4 344.2 L1406.4 337.1 L1407.4 328.4 L1408.1 311 L1409.1 291.1 L1410.4 290.2 L1411.6 292.8 L1413 290.2 L1414.4 291.1 L1415.7 297.2 L1416.8 317.1 L1418.2 316.2 L1419.2 304.1 L1420.2 300.6 L1421.3 304.1 L1422.7 315.4 L1423.7 311 L1424.8 305.8 L1425.8 308.4 L1426.8 294.6 L1428.2 292 L1429.6 291.6 L1431 297.2 L1432.4 299.8 L1433.8 296.3 L1435.2 304.1 L1436.6 309.3 L1437.9 309 L1439 305.8 L1440 290.2 L1441.1 283.3 L1442.1 282.9 L1443.2 297.2 L1444.2 302.4 L1445.2 292 L1446.3 292.8 L1447.3 269.4 L1448.4 265.6 L1449.4 267.7 L1450.4 269.4 L1451.5 271.1 L1452.2 283.3 L1452.9 300.6 L1453.9 304.1 L1454.9 311.9 L1456.3 302.4 L1457.4 299.2 L1458.4 303.2 L1459.5 315.9 L1460.5 312.8 L1461.5 313.6 L1462.9 314.5 L1464 332.7 L1465 331.9 L1466.4 329.3 L1467.8 328.4 L1468.8 311 L1470.2 308.4 L1471.3 304.1 L1472.3 298.9 L1473.7 305 L1475.1 302.4 L1476.5 299.8 L1477.8 301.5 L1479.2 304.1 L1480.6 302.4 L1481.7 292 L1482.7 281.5 L1483.7 267.7 L1484.8 259 L1486.2 253.8 L1487.2 241.6 L1487.9 237.3 L1489 240.8 L1489.6 222.6 L1491 220 L1492.4 218.7 L1493.8 221.7 L1495.2 219.1 L1496.6 217.3 L1498 222.6 L1499.4 227.8 L1500.4 231.2 L1501.4 227.8 L1502.8 222.6 L1503.5 208.7 L1504 184.7 L1505 151.8 L1505.4 127.1 L1506.7 126.1 L1507.5 137.4 L1508.7 131.2 L1510.2 127.1 L1510.8 110.6 L1511.6 75.2 L1513.2 109.6 L1514.3 92.1 L1515.7 76.6 L1517 73.5 L1518.2 67.4 L1518.6 40.6 L1519.4 50.9 L1520.7 40.6 L1521.5 31.7 L1522.3 40.6 L1523.5 50.9 L1524.4 71.5 L1525.2 102.4 L1526 74.6 L1527.2 88 L1528.1 130.2 L1529.3 77.7 L1530.5 79.7 L1531.4 117.8 L1532.8 114.7 L1533.8 98.3 L1534.7 81.8 L1535.1 60.2 L1536.3 58.1 L1536.7 60.2 L1537.5 61.2 L1537.5 687.2 L20.2 687.2 Z" fill="url(#g)"/>
<path d="M20.2 603.7 L22.4 601.2 L24.6 600.4 L26.8 597.1 L27.9 589.1 L30.5 586.6 L32.7 584 L33.9 580.3 L35.2 586.1 L36.6 584.2 L38.6 581 L41.5 580.7 L44 579.9 L45.4 583.2 L47.3 580.3 L50.3 578.8 L51.7 575.9 L53.9 579.3 L56.9 581.8 L59 580.7 L61.2 583.2 L63 584.2 L65.3 581.8 L67.8 579.6 L69.3 579.3 L70.3 584 L71.2 594.2 L73.7 594.5 L75.6 593.5 L77.3 595.4 L79.5 593.9 L81.7 592.7 L83.9 589.8 L86.1 587.6 L89.1 586.9 L91.3 591.3 L93.5 594.2 L94.9 590.1 L97.8 589.5 L100.5 589.1 L103 590.5 L105.2 591.6 L107.4 590.1 L109.3 590.5 L111.8 586.9 L114.7 582.5 L116.9 583.2 L119.1 582.8 L121 584.2 L123 581.8 L124.5 577.4 L125.7 570 L128.3 568.6 L130.1 569 L131.8 564.2 L133.3 566.4 L135.9 563.5 L137.4 562.7 L138.8 564.2 L140.6 559.8 L141.8 547.3 L143.5 546.6 L144.7 551.7 L146.9 548.1 L148.4 548.8 L150.3 540.8 L152 539.7 L153.8 542.2 L155.2 532.7 L156.4 527.6 L158.2 523.9 L159 519.5 L160.8 518.8 L162.3 518.1 L163.4 515.1 L164.9 519.5 L165.9 532 L167.4 531.2 L168.9 521 L170.3 510.7 L171.8 512.9 L173.3 511.9 L174.7 517.3 L176.2 512.9 L178.1 514 L179.8 520.3 L181.3 522.5 L183.1 523.9 L184.5 517.3 L185.7 515.1 L187.2 512.9 L188.3 494.6 L189.4 481.5 L189.7 478.6 L191.2 471.8 L192.8 472.6 L194.3 481.7 L195.5 477.1 L197 471.1 L198.1 458.9 L198.8 449.8 L200.6 446 L203 437.8 L203.8 428.3 L206.1 423.5 L207.2 401.3 L208.2 390.3 L210.1 404.5 L211.7 363.3 L213.3 328.5 L214.5 319.8 L216.1 325.3 L217.7 355.4 L219 382.3 L219.9 352.3 L221.2 334 L222.4 347.5 L223.5 363.3 L225.1 357.8 L225.9 364.9 L227.2 361 L228.3 366.5 L229.1 409.3 L230.7 391.1 L231.6 399.8 L233 395 L234.6 394.2 L235.7 414 L237 390.3 L238.3 379.2 L239.4 379.2 L240.5 390.3 L241.8 387.1 L243 350.7 L244.1 349.9 L245.2 355.4 L246.8 334 L248.4 338 L249 315.8 L249.4 300 L250.5 268.5 L251.6 284.4 L252.8 257.1 L254.6 266.2 L256.2 250.3 L257.8 257.1 L259.1 219.5 L260.5 223 L261.9 184.2 L264.2 169.4 L265.3 195.6 L266.9 236.6 L268.3 250.3 L269.8 268.5 L271.7 283.3 L273.3 245.7 L275.5 233.2 L276.7 250.3 L278.3 245.7 L279.6 223 L281.2 202.5 L282.8 179.7 L284.2 167.2 L285.1 163.8 L286.2 136.4 L287.4 150.1 L288.7 186.5 L290.3 158.1 L291.5 177.4 L293.3 162.6 L294.9 163.8 L296.5 186.5 L297.9 201.3 L300.1 225.2 L301.7 188.8 L303.3 184.2 L305.1 161.5 L307 159.2 L308.6 156.9 L310.1 175.1 L311.5 160.3 L313.1 166 L314.7 183.1 L316.1 168.3 L317.7 149 L319.3 147.8 L320.6 117.1 L322 116.4 L323.8 121.6 L325.6 138.7 L327.4 154.6 L328.6 186.5 L329.7 182 L331.3 207 L332.9 227.5 L334.7 248 L335.9 202.5 L337.5 193.4 L339.3 207 L340.4 168.3 L342 168.3 L343.4 188.8 L345 207 L346.1 172.9 L347.9 170.6 L349.3 160.3 L350.7 161.5 L352 185.4 L353.2 176.3 L354.3 236.6 L356.4 240 L357.5 266.2 L358.6 269.6 L359.8 293.5 L360.9 300.4 L361.5 320.6 L362.1 352.3 L363.7 323.8 L365 347.5 L366.5 373.6 L368.1 341.2 L370 332.5 L371.6 347.5 L372.9 375.2 L374.8 352.3 L376.7 351.5 L378.7 334.8 L380.3 350.7 L381.9 368.1 L383.5 387.1 L384.6 386.3 L385.9 349.1 L387.8 355.4 L389 367.3 L390.6 323.8 L391.9 321.4 L393 325.3 L394.1 341.2 L395.4 345.1 L396.6 366.5 L398.2 364.9 L399.2 402.9 L400.9 376 L402.5 374.4 L403.3 400.6 L404.9 399.8 L406.4 374.4 L408 363.3 L409.3 371.3 L410.9 384.7 L412.8 369.7 L414.4 368.9 L415.9 380.8 L417.2 382.3 L418.3 391.8 L419.9 382.3 L421.5 378.4 L423.1 385.5 L424.7 391.8 L425.8 391.1 L427 402.9 L428.6 405.3 L429.9 399.8 L431.8 418 L433.4 396.6 L435.3 390.3 L437.3 371.3 L438.9 347.5 L440.2 327.7 L441.7 314.1 L442.9 309.8 L444.5 313.3 L446 324.7 L447.5 333.8 L448.6 330.8 L450.1 303.4 L451.2 287.4 L452.4 286.7 L453.3 291.2 L453.9 271.5 L455.1 270.7 L456 279.1 L456.9 287.4 L458.2 260.8 L459.1 258.5 L460.3 263.9 L461.5 266.1 L462.4 276 L463.3 287.9 L464.5 282.1 L465.8 257.8 L466.7 244.9 L467.9 245.6 L468.8 244.1 L469.9 241.8 L470.9 250.2 L471.8 257 L472.9 245.6 L473.7 263.1 L474.9 246.4 L475.9 247.1 L477 264.6 L478.2 247.9 L479.1 261.6 L480.5 246.4 L482 241.1 L483.2 237.3 L484.3 224.3 L485.5 213.7 L486.4 214 L487 238 L487.7 256.3 L488.6 269.2 L489.6 270.7 L490.7 285.2 L491.9 274.5 L492.8 282.1 L493.7 276 L494.6 263.9 L495.7 254 L496.8 260.8 L498 254.7 L499.2 253.2 L500.3 260.8 L501.3 276 L502.3 297.3 L502.9 324.7 L504.1 285.2 L505.3 283.3 L506.2 303.4 L507.1 297.3 L508.3 298.8 L509.5 306.4 L510.9 319.4 L512 312.5 L512.9 291.2 L513.8 260.8 L514.7 254.7 L515.9 253.2 L517.2 245.6 L518.1 230.4 L519 206.1 L519.2 191.1 L520.1 189.5 L521.7 203.6 L523.3 195.8 L524.5 171.4 L525.8 170.6 L526.7 180 L528 167.5 L529.1 132.9 L530.7 132.1 L531.4 137.6 L532.7 131.3 L533.8 109.3 L534.9 93.6 L536.2 93.3 L536.9 117.2 L537.7 139.2 L539 129.7 L540.1 121.9 L541.2 119.5 L542.1 137.6 L543.2 161.2 L544.3 148.6 L545.6 129 L546.8 129.7 L547.9 134.5 L549 138.4 L550 120.3 L551.1 120 L552.2 129.7 L553.5 137.6 L554.4 134.5 L555.3 120.3 L556.3 81 L557.4 80.2 L558.5 85.7 L559.4 99.9 L560.5 106.2 L561.6 108.5 L562.6 99.9 L563.7 98.3 L564.8 103 L565.7 121.9 L566.7 143.9 L567.6 151.7 L568.2 175.3 L569.2 148.6 L570.4 147.8 L571.4 154.9 L572.3 180.8 L573.6 170.6 L574.5 167.5 L575.5 159.6 L576.4 158.8 L577 203.6 L578.3 195.8 L579.4 172.2 L580.5 168.3 L581.7 172.2 L583 173.8 L584.1 176.9 L584.9 186.3 L585.7 203.6 L585.9 233.5 L586.5 245.6 L588 239.5 L589.5 231.9 L590.8 235.7 L591.5 257.8 L593 245.6 L594.1 262.3 L595.3 237.3 L596.5 266.9 L597.7 250.2 L599 247.9 L599.9 260.8 L601.1 271.5 L602.6 265.4 L604.1 263.9 L605.4 250.2 L606.6 245.6 L607.5 230.4 L609 230.1 L610.8 230.4 L612.3 231.9 L613.3 250.2 L614.2 266.9 L615.4 270 L616.6 270.7 L617.8 257.8 L618.9 258.5 L620 263.9 L621.2 271.5 L622.4 285.2 L623.3 297.3 L624.5 314.1 L625.7 313.3 L627.3 311 L628.8 303.4 L630 303.2 L630.8 291.8 L631.8 298.7 L633 300.2 L634.3 299.4 L635.3 303.2 L636.8 306.3 L638.4 312.3 L639.4 321.5 L640 341.2 L640.6 359.5 L641.6 371.7 L642.5 365.6 L643.4 356.4 L644.9 354.9 L646 353.4 L647 350.4 L648.2 345 L649.5 342 L650.7 347.3 L651.6 339.7 L652.8 337.4 L653.6 354.9 L654.8 354.2 L655.4 313.9 L656.6 312.3 L657.4 307.8 L658.6 295.6 L659.7 291.1 L661.2 288.3 L662.2 289.5 L663.2 297.1 L664.2 306.3 L665.7 307.8 L666.8 303.2 L667.7 288 L668.8 286.5 L669.8 292.6 L670.8 310.8 L671.7 324.5 L672.9 326 L673.8 335.2 L674.9 354.2 L675.9 353.4 L676.8 342.8 L677.9 350.4 L679 333.6 L679.9 333.3 L680.9 341.2 L682 347.3 L682.9 295.6 L684 287.7 L685 288 L686 294.1 L686.9 313.9 L687.8 335.2 L689 339.7 L690.1 332.9 L691.1 345 L692.3 326 L693.3 310.1 L694.2 323 L695.1 339.7 L696.3 335.2 L697.5 347.3 L698.7 335.2 L699.6 334.4 L700.7 318.4 L701.8 316.9 L703 312.3 L704.2 307.8 L705.3 310.8 L706.3 318.4 L707.3 319.2 L708.3 307.8 L709.4 298.7 L710.6 291.1 L711.8 288 L712.9 271.3 L713.9 265.2 L715.5 260.9 L716.7 262.2 L717.9 277.4 L719 278.1 L720 274.3 L721.2 269 L722.8 268.2 L724 277.4 L725 295.6 L726.1 298.7 L727.3 307 L728.5 303.2 L729.6 306.3 L730.4 332.1 L731.6 323 L732.6 316.9 L733.7 318.4 L734.6 328.3 L735.7 323 L736.4 324.5 L737.4 329.8 L738.3 318.4 L739.5 313.9 L740.7 314.6 L741.8 320 L742.8 327.6 L744.1 326 L745.3 330.6 L746.3 323.8 L747.1 345 L748.3 342.8 L749.4 329.8 L750.1 330.6 L751 346.6 L752.3 341.2 L753.2 347.3 L754.4 341.2 L755.5 348.8 L756.2 330.6 L757.1 330.3 L757.7 348.8 L758.5 359.5 L759.6 364.1 L760.5 370.1 L761.1 379.3 L761.8 403.4 L762.5 415.4 L763.3 409 L764 427.4 L765.7 424.7 L767 421 L768.1 408.1 L769.2 405.3 L770.3 412.7 L771.2 420 L772.1 428.3 L773.6 413.6 L774.9 421.9 L776.2 414.5 L777.3 414.1 L778.6 423.7 L779.9 421.9 L781 424.7 L782.3 429.3 L783.6 424.7 L784.7 416.4 L785.4 401.6 L786.9 400.7 L788 412.7 L789.1 414.5 L790.2 419.1 L791.5 418.2 L792.8 405.3 L794.3 404.9 L795.7 409 L797 417.3 L798.3 425.6 L799.4 433 L800.5 447.7 L801.3 468 L801.6 484.6 L802.7 486.4 L803.9 484.6 L804.6 503 L805.7 504.9 L806.8 515 L808.1 502.1 L809.4 501.2 L810.5 506.7 L811.8 499.3 L813.1 495.7 L814.6 492.9 L816 497.5 L817.5 503 L819.2 507.6 L821 512.3 L823.4 513.2 L824.9 505.8 L826.4 503 L827.8 493.8 L829.3 490.5 L830.8 493.8 L832.3 503 L833.9 512.3 L835.8 503 L837.6 498.4 L839.5 496.6 L840.7 482.7 L841.8 476.3 L843.3 476.8 L845 480 L846.8 484.6 L848.7 493.8 L849.6 495.7 L851.1 475.4 L852.4 472.1 L854.2 473.5 L856.6 477.2 L858.8 480.9 L860.3 482.4 L862.1 479.1 L863.4 478.1 L864.7 473.5 L866.2 477.2 L867.7 471.7 L869.5 467.1 L871.4 467.6 L873.2 469.8 L875 474.5 L876.3 479.1 L877.3 497.5 L878.7 495.7 L880 492 L881.9 492.9 L883.7 492 L885 503 L886.5 508.6 L888 509.5 L889.2 504.9 L891.1 507.6 L892.9 505.8 L894.8 507.6 L896.1 510.4 L897.5 516.9 L899 510.4 L900.3 493.8 L901.6 491 L903.1 487.4 L904.2 486.1 L905.3 503 L906.8 508.6 L908.6 505.8 L910.1 506.7 L911.4 512.3 L912.7 513.2 L914.1 519.6 L915.6 512.3 L916.9 515.9 L918.8 515 L920.6 513.2 L922.4 511.3 L924.3 510.8 L926.1 515 L927.4 508.6 L928.9 503.4 L930.4 505.8 L932.2 510.4 L934.1 512.3 L936.3 514.1 L938.1 513.2 L940 514.1 L941.8 513.2 L943.3 510.8 L945.1 514.1 L947 515.9 L948.8 514.1 L950.7 512.3 L952 507.6 L953.2 501.2 L954.7 499.3 L956.2 501.2 L957.5 500.3 L958.8 503 L960.3 504 L962.1 504.9 L963.6 497.5 L964.9 495.7 L966.2 498.4 L967.3 503 L968.2 523.3 L969.1 544.5 L970.4 532.5 L971.3 528.9 L972.8 539.9 L974.1 538.1 L975.9 534.4 L977.8 536.2 L979.6 535.3 L981.5 539.9 L982.8 543.6 L984.2 538.1 L985.7 537.2 L987.6 538.1 L989.4 539 L991.2 540.8 L993.1 532.5 L994.9 532.2 L996.8 533.5 L998.6 532.5 L1000 534.7 L1002.1 532.1 L1004.3 533.8 L1006.1 532.9 L1007.3 526.9 L1009 526.5 L1010.4 533.8 L1011.8 537.3 L1013.5 538.2 L1014.7 539 L1016 534.7 L1017.7 535.6 L1019.4 534.7 L1021.7 534.2 L1023.4 536.4 L1025.7 538.2 L1027.8 538.2 L1030.4 537.3 L1033 535.6 L1035.6 534.2 L1037.8 532.4 L1039.6 528.6 L1040.8 519.9 L1041.6 509.5 L1042.7 499.1 L1044.2 497.4 L1046 496 L1047.2 499.1 L1048.6 500.5 L1049.6 492.2 L1050.3 482.6 L1051.7 481.4 L1053.1 480 L1054.5 483.5 L1055.9 479.2 L1057.3 478.3 L1058.7 480.4 L1059.9 473.1 L1061.1 472.7 L1062.1 480.9 L1063.3 474.8 L1064.5 474.5 L1065.9 476.2 L1067.7 478.3 L1069.1 481.8 L1070.4 477.9 L1071.8 481.8 L1072.9 489.6 L1074.3 492.2 L1076 491.3 L1077.7 489.6 L1079 476.6 L1079.8 467 L1081.6 465.3 L1083.3 466.1 L1085 464.1 L1086.4 466.1 L1088.1 470.5 L1089.4 473.1 L1090.2 478.3 L1092 478.6 L1093.4 475.7 L1095.1 474.8 L1096.5 478.3 L1097.5 484.4 L1099.3 486.1 L1101 485.2 L1102.7 488.7 L1103.8 497.4 L1105 503.5 L1106.2 504.3 L1107.2 499.1 L1108.3 478.3 L1109.3 466.1 L1110.4 464.4 L1111.4 466.1 L1112.4 454 L1113.5 441 L1114.5 439.2 L1115.6 434 L1116.6 439.2 L1118 432.3 L1119.4 440.1 L1120.6 431.4 L1121.8 436.6 L1123.2 435.8 L1124.6 441.9 L1125.8 442.7 L1127 434 L1128.4 432.3 L1130.1 430.6 L1131.5 432.3 L1132.9 436.6 L1134.5 434.9 L1136.2 435.8 L1137.9 436.3 L1139.3 434 L1140.2 423.6 L1141.4 415.8 L1143.2 413.7 L1144.9 412.7 L1146.1 415 L1147.5 413.2 L1148.9 416.7 L1149.9 413.7 L1151 426.2 L1152 436.6 L1153 441.5 L1154.8 439.8 L1156.5 440.1 L1158.3 433.2 L1159.6 422.8 L1161 421.9 L1162.4 423.6 L1163.5 434 L1164.8 433.2 L1166.2 426.2 L1167.4 421.9 L1169.2 421.4 L1170.4 426.2 L1171.8 432.3 L1173.2 438.4 L1174.6 441 L1176.1 446.2 L1177.9 445.3 L1179.6 443.6 L1181.3 441.5 L1182.5 440.5 L1183.9 444.5 L1185.3 442.7 L1187.1 443.6 L1188.8 441.9 L1190 448.8 L1191.2 450.2 L1192.6 446.2 L1194 436.6 L1195 434 L1196.4 437.5 L1197.8 440.1 L1199.2 445.3 L1200.4 441 L1201.8 441.9 L1203 447.1 L1204.1 454.9 L1205.1 441.9 L1206.5 447.9 L1207.9 450.5 L1209.1 453.1 L1210.8 454 L1212.6 456.6 L1213.8 460.9 L1215.2 455.7 L1216.6 450.5 L1217.9 448.8 L1219.3 446.2 L1220.4 429.7 L1221.4 416.7 L1222.8 414.1 L1223.8 411.5 L1225.2 412.7 L1226.6 412.4 L1228 411.5 L1229.4 415.8 L1230.8 412.4 L1232.2 413.2 L1233.6 411 L1234.9 407.1 L1236.3 409.2 L1237.7 413.7 L1239.1 417.6 L1240.8 415 L1242.6 414.4 L1244.3 412.4 L1245.5 411.5 L1246.4 403.7 L1247.4 404 L1248.1 412.4 L1249.5 413.7 L1251.3 415.5 L1253 416.7 L1254.7 418.4 L1256.5 417.9 L1257.9 416.7 L1258.9 423.6 L1260.3 424.8 L1262 424.5 L1263.8 423.6 L1265.5 424.2 L1267.2 422.8 L1268.6 422.4 L1270 424.6 L1271.2 425.3 L1272.6 426 L1274 426.3 L1275.1 423.2 L1276.1 418.7 L1277.1 419.7 L1278.2 421.8 L1279.6 422.5 L1281 421.8 L1282.4 422.1 L1283.6 424.6 L1284.4 431.7 L1285.3 445.8 L1286.1 452.8 L1287.4 453.1 L1288.8 452.1 L1290.2 452.8 L1291.2 452.6 L1292.3 450 L1293 448.6 L1294 452.1 L1295.1 452.8 L1296.5 453.5 L1297.7 452.8 L1298.7 441.6 L1299.4 437 L1300.5 437.3 L1301.3 444.4 L1302.2 454.2 L1303.3 455.4 L1304.7 453.5 L1306.1 455 L1307.5 454.5 L1308.7 455.9 L1309.8 451.4 L1310.9 452.8 L1312.1 455.7 L1313.2 460.6 L1314.2 461.6 L1315.2 458.5 L1316 452.8 L1317.1 449.3 L1318.3 447.9 L1319.4 447.5 L1320.5 447.9 L1321.7 448.6 L1322.5 443 L1323.3 441.6 L1324.5 444.4 L1325.6 446.5 L1326.9 447.9 L1327.9 450 L1329 451.4 L1330.4 450.7 L1331.5 451.4 L1332.7 447.9 L1333.8 445.1 L1334.6 444.4 L1335.8 438.7 L1336.6 435.6 L1337.7 438 L1338.6 439.4 L1339.7 435.9 L1340.8 440.4 L1342 435.9 L1343.1 434.8 L1344.2 435.9 L1345.3 437.3 L1346.5 440.4 L1347.6 444.4 L1348.7 447.2 L1349.9 447.5 L1351 446.5 L1352.1 445.1 L1353 438.7 L1353.8 430.3 L1354.9 432.4 L1356.1 431.7 L1357.2 427.4 L1358.3 420.4 L1359.4 417.6 L1360.3 413.3 L1360.9 399.2 L1361.4 386.5 L1362.3 380.9 L1363.1 377.4 L1364.2 378.8 L1365.1 382.3 L1365.9 383 L1367.1 380.9 L1368.2 378.1 L1369.3 377.4 L1370.2 373.9 L1371 368.9 L1371.9 368.2 L1372.7 371.7 L1373.8 375.3 L1375 373.9 L1376.1 373.1 L1377.2 372.7 L1378.1 370.3 L1379.1 365.4 L1380 356.9 L1381.2 352 L1382 351.3 L1383.1 354.1 L1384.3 356.9 L1385.1 364 L1386 368.2 L1386.8 358.3 L1387.4 346.3 L1388.2 347.1 L1389.1 363.3 L1389.9 359.7 L1390.8 354.1 L1391.6 355.5 L1392.5 351.3 L1393.3 350.6 L1394.1 364.7 L1395 358.3 L1395.8 350.6 L1396.7 352 L1397.8 347.8 L1398.9 347.1 L1400.1 349.9 L1401.2 353.4 L1402.3 348.5 L1403.5 347.1 L1404.6 349.2 L1405.4 344.2 L1406.4 337.1 L1407.4 328.4 L1408.1 311 L1409.1 291.1 L1410.4 290.2 L1411.6 292.8 L1413 290.2 L1414.4 291.1 L1415.7 297.2 L1416.8 317.1 L1418.2 316.2 L1419.2 304.1 L1420.2 300.6 L1421.3 304.1 L1422.7 315.4 L1423.7 311 L1424.8 305.8 L1425.8 308.4 L1426.8 294.6 L1428.2 292 L1429.6 291.6 L1431 297.2 L1432.4 299.8 L1433.8 296.3 L1435.2 304.1 L1436.6 309.3 L1437.9 309 L1439 305.8 L1440 290.2 L1441.1 283.3 L1442.1 282.9 L1443.2 297.2 L1444.2 302.4 L1445.2 292 L1446.3 292.8 L1447.3 269.4 L1448.4 265.6 L1449.4 267.7 L1450.4 269.4 L1451.5 271.1 L1452.2 283.3 L1452.9 300.6 L1453.9 304.1 L1454.9 311.9 L1456.3 302.4 L1457.4 299.2 L1458.4 303.2 L1459.5 315.9 L1460.5 312.8 L1461.5 313.6 L1462.9 314.5 L1464 332.7 L1465 331.9 L1466.4 329.3 L1467.8 328.4 L1468.8 311 L1470.2 308.4 L1471.3 304.1 L1472.3 298.9 L1473.7 305 L1475.1 302.4 L1476.5 299.8 L1477.8 301.5 L1479.2 304.1 L1480.6 302.4 L1481.7 292 L1482.7 281.5 L1483.7 267.7 L1484.8 259 L1486.2 253.8 L1487.2 241.6 L1487.9 237.3 L1489 240.8 L1489.6 222.6 L1491 220 L1492.4 218.7 L1493.8 221.7 L1495.2 219.1 L1496.6 217.3 L1498 222.6 L1499.4 227.8 L1500.4 231.2 L1501.4 227.8 L1502.8 222.6 L1503.5 208.7 L1504 184.7 L1505 151.8 L1505.4 127.1 L1506.7 126.1 L1507.5 137.4 L1508.7 131.2 L1510.2 127.1 L1510.8 110.6 L1511.6 75.2 L1513.2 109.6 L1514.3 92.1 L1515.7 76.6 L1517 73.5 L1518.2 67.4 L1518.6 40.6 L1519.4 50.9 L1520.7 40.6 L1521.5 31.7 L1522.3 40.6 L1523.5 50.9 L1524.4 71.5 L1525.2 102.4 L1526 74.6 L1527.2 88 L1528.1 130.2 L1529.3 77.7 L1530.5 79.7 L1531.4 117.8 L1532.8 114.7 L1533.8 98.3 L1534.7 81.8 L1535.1 60.2 L1536.3 58.1 L1536.7 60.2 L1537.5 61.2" fill="none" stroke="#00a63e" stroke-width="3.8" stroke-linejoin="round" stroke-linecap="butt"/>
<text x="1568" y="682.3" font-size="23.5" fill="#64748b">$0</text>
<text x="1568" y="592.9" font-size="23.5" fill="#64748b">$10K</text>
<text x="1568" y="503.4" font-size="23.5" fill="#64748b">$20K</text>
<text x="1568" y="414" font-size="23.5" fill="#64748b">$30K</text>
<text x="1568" y="324.6" font-size="23.5" fill="#64748b">$40K</text>
<text x="1568" y="235.2" font-size="23.5" fill="#64748b">$50K</text>
<text x="1568" y="145.7" font-size="23.5" fill="#64748b">$60K</text>
<text x="1568" y="56.3" font-size="23.5" fill="#64748b">$70K</text>
<g>
<circle cx="1345.6" cy="642.1" r="26.6" fill="#f3f5f5" stroke="#e7e9ea" stroke-width="1.6"/>
<path d="M1330.1 633.8 C1333 630.5 1336 629.1 1339.4 628.8 C1343 628.3 1347 628.3 1350.1 628.9 C1353.5 629.8 1356 631.5 1358.2 633.6 C1361 635.5 1363.5 637 1365.2 639.3 C1366 641 1365.5 642.8 1364.2 644 C1362.5 646.3 1360.5 648 1358.2 649.4 C1356 650.8 1354 652.3 1352.8 654.5 C1351.3 656.8 1350.5 659 1350.1 661.2 C1349.6 663.5 1349.4 666 1349.5 668.2 C1345 669 1340.5 668.6 1336.8 667.3 C1332 665.4 1328.5 662.4 1326 658.5 C1325 657 1324.5 655.8 1324.4 654.5 C1324.6 650.5 1325.4 647 1326.7 643.8 C1327.6 640 1328.6 636.6 1330.1 633.8 Z" fill="#e5e7e8"/>
<circle cx="1341.8" cy="636" r="5" fill="#f5f6f6"/><circle cx="1341.8" cy="636.2" r="2.9" fill="#d8dbdc"/>
<circle cx="1359.3" cy="640.6" r="1.3" fill="#f1f2f2"/>
<path d="M1346.5 646.8 C1349.5 648.2 1353 647.9 1356 646.5" fill="none" stroke="#dcdfe0" stroke-width="1"/>
<text x="1383.2" y="649.3" font-size="26.2" fill="#d9dcdd" stroke="#d9dcdd" stroke-width="1.05" stroke-linejoin="round" class="wm" textLength="134.5" lengthAdjust="spacingAndGlyphs">CoinGecko</text>
</g>
</svg></body></html>
